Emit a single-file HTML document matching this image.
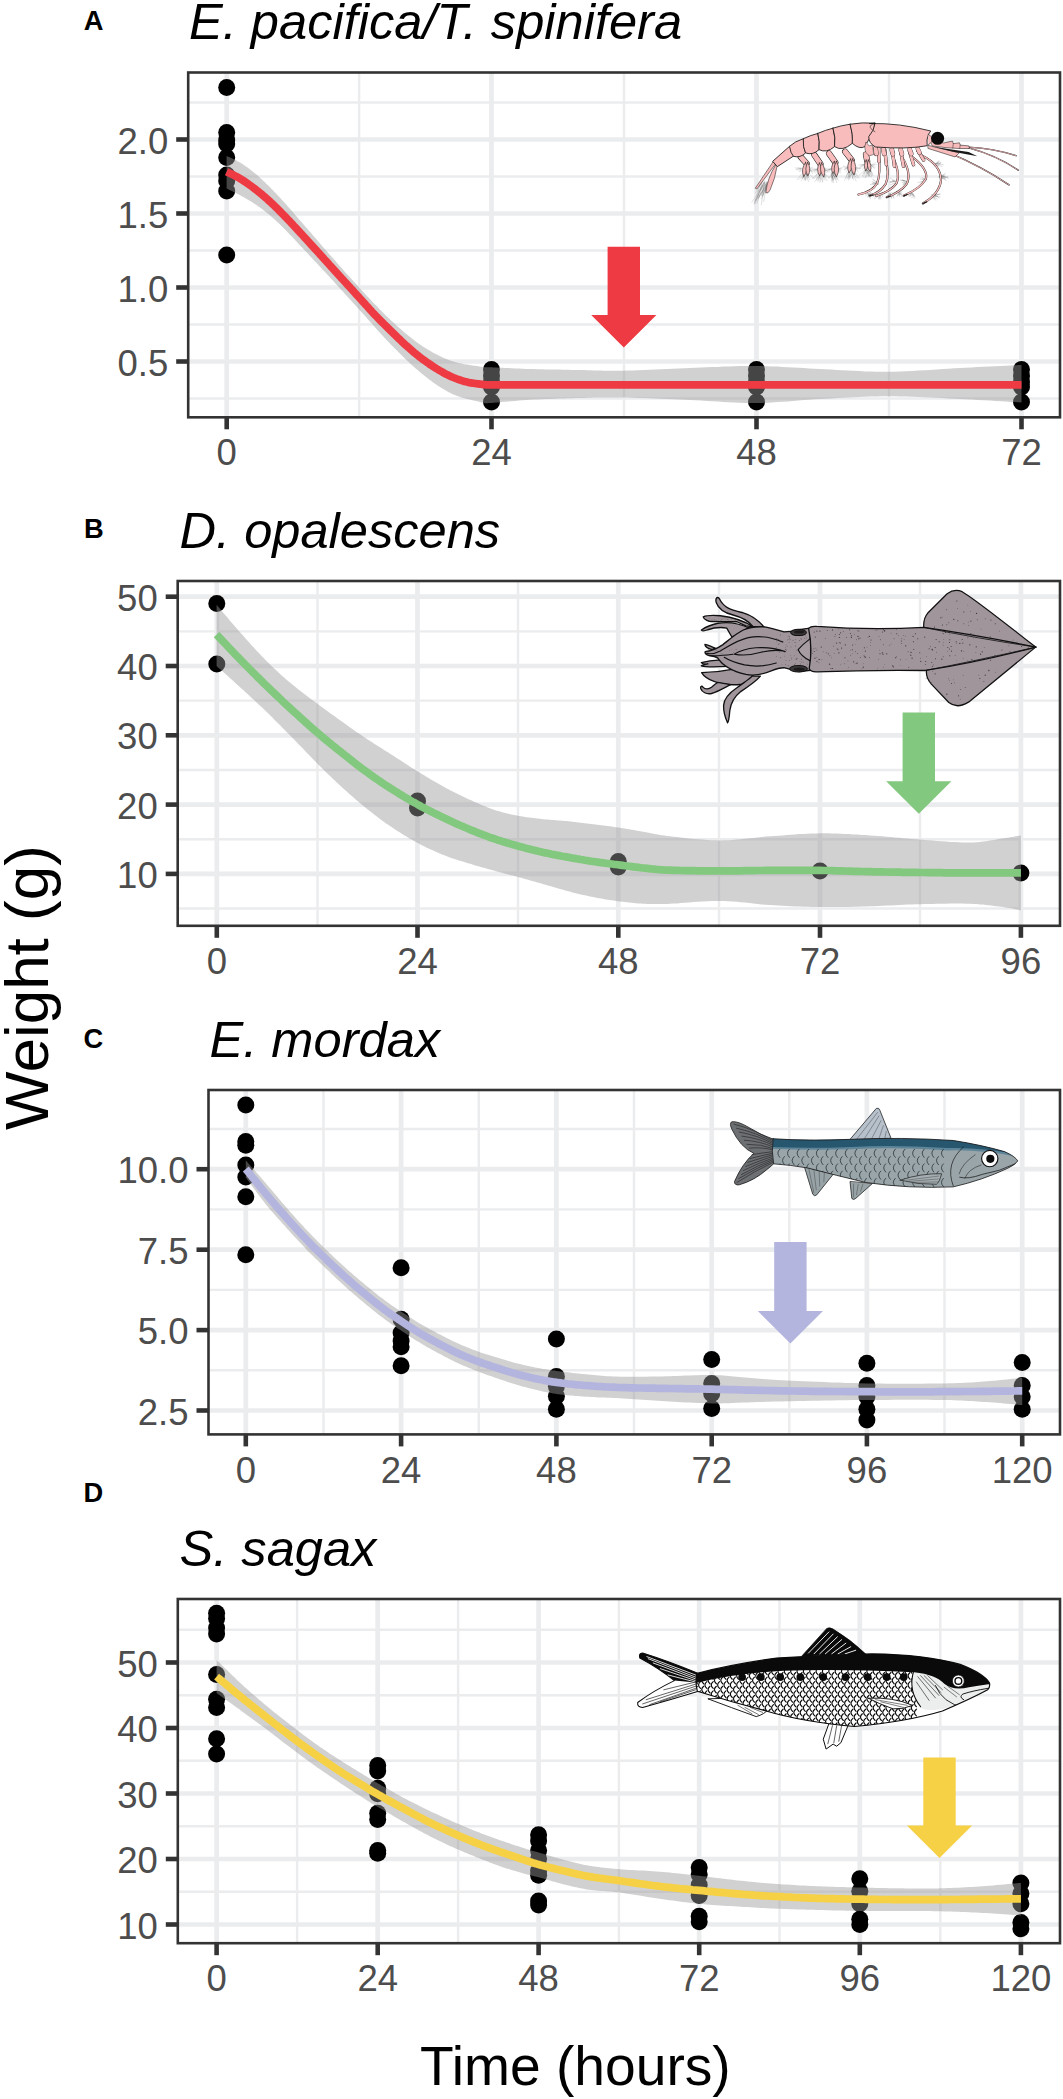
<!DOCTYPE html>
<html><head><meta charset="utf-8"><title>Weight vs time</title>
<style>html,body{margin:0;padding:0;background:#fff}svg{display:block}text{font-family:"Liberation Sans",sans-serif}</style>
</head><body>
<svg width="1063" height="2099" viewBox="0 0 1063 2099">
<rect width="1063" height="2099" fill="#fff"/>
<g>
<line x1="359.1" y1="72.5" x2="359.1" y2="417.3" stroke="#ebecee" stroke-width="2.4"/>
<line x1="624.0" y1="72.5" x2="624.0" y2="417.3" stroke="#ebecee" stroke-width="2.4"/>
<line x1="889.0" y1="72.5" x2="889.0" y2="417.3" stroke="#ebecee" stroke-width="2.4"/>
<line x1="188.2" y1="398.5" x2="1060.0" y2="398.5" stroke="#ebecee" stroke-width="2.4"/>
<line x1="188.2" y1="324.5" x2="1060.0" y2="324.5" stroke="#ebecee" stroke-width="2.4"/>
<line x1="188.2" y1="250.5" x2="1060.0" y2="250.5" stroke="#ebecee" stroke-width="2.4"/>
<line x1="188.2" y1="176.5" x2="1060.0" y2="176.5" stroke="#ebecee" stroke-width="2.4"/>
<line x1="188.2" y1="102.5" x2="1060.0" y2="102.5" stroke="#ebecee" stroke-width="2.4"/>
<line x1="226.7" y1="72.5" x2="226.7" y2="417.3" stroke="#ebecee" stroke-width="4.7"/>
<line x1="491.5" y1="72.5" x2="491.5" y2="417.3" stroke="#ebecee" stroke-width="4.7"/>
<line x1="756.5" y1="72.5" x2="756.5" y2="417.3" stroke="#ebecee" stroke-width="4.7"/>
<line x1="1021.5" y1="72.5" x2="1021.5" y2="417.3" stroke="#ebecee" stroke-width="4.7"/>
<line x1="188.2" y1="139.5" x2="1060.0" y2="139.5" stroke="#ebecee" stroke-width="4.7"/>
<line x1="188.2" y1="213.5" x2="1060.0" y2="213.5" stroke="#ebecee" stroke-width="4.7"/>
<line x1="188.2" y1="287.5" x2="1060.0" y2="287.5" stroke="#ebecee" stroke-width="4.7"/>
<line x1="188.2" y1="361.5" x2="1060.0" y2="361.5" stroke="#ebecee" stroke-width="4.7"/>
<circle cx="226.7" cy="87.5" r="8.5" fill="#000"/>
<circle cx="226.7" cy="132.5" r="8.5" fill="#000"/>
<circle cx="226.7" cy="140.0" r="8.5" fill="#000"/>
<circle cx="226.7" cy="144.0" r="8.5" fill="#000"/>
<circle cx="226.7" cy="157.5" r="8.5" fill="#000"/>
<circle cx="226.7" cy="175.0" r="8.5" fill="#000"/>
<circle cx="226.7" cy="181.0" r="8.5" fill="#000"/>
<circle cx="226.7" cy="191.0" r="8.5" fill="#000"/>
<circle cx="226.7" cy="255.0" r="8.5" fill="#000"/>
<circle cx="491.5" cy="369.5" r="8.5" fill="#000"/>
<circle cx="491.5" cy="376.0" r="8.5" fill="#000"/>
<circle cx="491.5" cy="382.0" r="8.5" fill="#000"/>
<circle cx="491.5" cy="387.0" r="8.5" fill="#000"/>
<circle cx="491.5" cy="402.0" r="8.5" fill="#000"/>
<circle cx="756.5" cy="369.5" r="8.5" fill="#000"/>
<circle cx="756.5" cy="376.0" r="8.5" fill="#000"/>
<circle cx="756.5" cy="382.0" r="8.5" fill="#000"/>
<circle cx="756.5" cy="387.0" r="8.5" fill="#000"/>
<circle cx="756.5" cy="402.0" r="8.5" fill="#000"/>
<circle cx="1021.5" cy="369.5" r="8.5" fill="#000"/>
<circle cx="1021.5" cy="376.0" r="8.5" fill="#000"/>
<circle cx="1021.5" cy="382.0" r="8.5" fill="#000"/>
<circle cx="1021.5" cy="387.0" r="8.5" fill="#000"/>
<circle cx="1021.5" cy="402.0" r="8.5" fill="#000"/>
<path d="M226.6,156.0 L227.2,156.3 L228.1,156.7 L229.0,157.1 L230.0,157.6 L231.2,158.1 L232.4,158.6 L233.7,159.2 L235.0,159.8 L236.3,160.5 L237.6,161.2 L238.9,161.9 L240.1,162.6 L241.3,163.3 L242.5,164.1 L243.8,164.9 L245.0,165.8 L246.3,166.7 L247.6,167.6 L248.8,168.5 L250.1,169.5 L251.4,170.4 L252.7,171.4 L253.9,172.5 L255.2,173.5 L256.5,174.6 L257.7,175.6 L259.0,176.8 L260.2,177.9 L261.5,179.1 L262.7,180.2 L263.9,181.4 L265.2,182.6 L266.4,183.9 L267.7,185.1 L268.9,186.3 L270.2,187.6 L271.5,188.9 L272.7,190.1 L274.0,191.4 L275.2,192.8 L276.5,194.1 L277.8,195.4 L279.0,196.8 L280.3,198.1 L281.5,199.5 L282.8,200.8 L284.0,202.2 L285.3,203.6 L286.5,204.9 L287.6,206.2 L288.7,207.4 L289.7,208.6 L290.8,209.8 L291.9,211.0 L293.0,212.3 L294.2,213.7 L295.5,215.2 L296.9,216.8 L298.5,218.7 L300.3,220.7 L302.3,223.0 L304.4,225.5 L306.8,228.2 L309.2,231.0 L311.8,234.0 L314.4,237.0 L317.1,240.1 L319.8,243.3 L322.5,246.4 L325.2,249.5 L327.8,252.5 L330.4,255.4 L332.9,258.2 L335.4,261.1 L337.9,263.9 L340.4,266.8 L342.9,269.6 L345.4,272.4 L348.0,275.2 L350.5,278.0 L353.0,280.8 L355.5,283.6 L358.0,286.3 L360.5,289.0 L363.0,291.7 L365.5,294.4 L368.0,297.1 L370.5,299.7 L373.0,302.4 L375.6,305.0 L378.1,307.6 L380.6,310.2 L383.1,312.7 L385.6,315.2 L388.1,317.6 L390.6,320.0 L393.1,322.3 L395.6,324.6 L398.1,326.9 L400.6,329.1 L403.1,331.3 L405.7,333.5 L408.2,335.5 L410.7,337.6 L413.2,339.5 L415.7,341.4 L418.2,343.3 L420.7,345.0 L423.2,346.7 L425.7,348.3 L428.2,349.8 L430.7,351.3 L433.2,352.7 L435.8,354.0 L438.3,355.3 L440.8,356.5 L443.3,357.7 L445.8,358.8 L448.3,359.8 L450.8,360.7 L453.4,361.6 L456.0,362.3 L458.8,363.0 L461.6,363.6 L464.3,364.2 L467.1,364.6 L469.7,365.1 L472.3,365.5 L474.7,365.8 L477.0,366.1 L479.1,366.4 L480.9,366.7 L482.4,366.9 L483.5,367.1 L484.3,367.2 L484.8,367.3 L485.3,367.3 L485.7,367.3 L486.1,367.2 L486.6,367.2 L487.3,367.2 L488.3,367.2 L489.7,367.2 L491.5,367.3 L493.7,367.4 L496.2,367.5 L498.9,367.7 L501.8,367.8 L505.0,368.0 L508.3,368.1 L511.7,368.3 L515.3,368.4 L518.9,368.6 L522.6,368.7 L526.3,368.9 L530.0,369.0 L533.8,369.1 L537.7,369.2 L541.9,369.3 L546.1,369.4 L550.4,369.5 L554.7,369.6 L559.1,369.6 L563.4,369.7 L567.7,369.8 L571.9,369.9 L576.0,369.9 L580.0,370.0 L583.8,370.1 L587.3,370.2 L590.7,370.3 L594.0,370.4 L597.2,370.5 L600.4,370.6 L603.7,370.7 L607.1,370.7 L610.7,370.8 L614.5,370.8 L618.6,370.8 L623.0,370.7 L627.7,370.6 L632.8,370.4 L638.1,370.2 L643.6,370.0 L649.3,369.8 L655.1,369.5 L660.9,369.2 L666.9,369.0 L672.8,368.7 L678.6,368.4 L684.4,368.2 L690.0,368.0 L695.5,367.8 L701.1,367.6 L706.6,367.3 L712.1,367.1 L717.7,366.9 L723.2,366.6 L728.7,366.4 L734.2,366.3 L739.7,366.1 L745.1,366.0 L750.6,366.0 L756.0,366.0 L761.4,366.1 L766.7,366.2 L772.0,366.4 L777.3,366.6 L782.6,366.9 L787.9,367.2 L793.2,367.5 L798.4,367.8 L803.8,368.1 L809.1,368.5 L814.5,368.7 L820.0,369.0 L825.5,369.3 L831.1,369.6 L836.6,369.9 L842.2,370.2 L847.8,370.5 L853.5,370.8 L859.2,371.1 L864.9,371.4 L870.6,371.6 L876.4,371.7 L882.2,371.8 L888.0,371.8 L893.9,371.7 L899.9,371.5 L906.0,371.3 L912.1,371.0 L918.2,370.6 L924.4,370.3 L930.5,369.9 L936.6,369.5 L942.6,369.0 L948.6,368.7 L954.4,368.3 L960.0,368.0 L965.7,367.7 L971.6,367.4 L977.6,367.1 L983.6,366.8 L989.5,366.5 L995.2,366.3 L1000.8,366.0 L1005.9,365.7 L1010.7,365.5 L1014.9,365.3 L1018.6,365.1 L1021.5,365.0 L1021.5,402.5 L1018.6,402.3 L1014.9,402.1 L1010.7,401.9 L1005.9,401.6 L1000.8,401.2 L995.2,400.9 L989.5,400.6 L983.6,400.2 L977.6,399.9 L971.6,399.6 L965.7,399.3 L960.0,399.0 L954.4,398.7 L948.6,398.4 L942.6,398.1 L936.6,397.8 L930.5,397.5 L924.4,397.3 L918.2,397.0 L912.1,396.8 L906.0,396.6 L899.9,396.4 L893.9,396.3 L888.0,396.3 L882.2,396.3 L876.4,396.4 L870.6,396.6 L864.9,396.8 L859.2,397.0 L853.5,397.2 L847.8,397.5 L842.2,397.8 L836.6,398.1 L831.1,398.4 L825.5,398.7 L820.0,399.0 L814.5,399.3 L809.1,399.7 L803.8,400.1 L798.4,400.5 L793.2,400.9 L787.9,401.4 L782.6,401.8 L777.3,402.1 L772.0,402.5 L766.7,402.7 L761.4,402.9 L756.0,403.0 L750.6,403.0 L745.1,402.9 L739.7,402.7 L734.2,402.5 L728.7,402.2 L723.2,401.9 L717.7,401.6 L712.1,401.2 L706.6,400.9 L701.1,400.6 L695.5,400.3 L690.0,400.0 L684.4,399.8 L678.6,399.5 L672.8,399.3 L666.9,399.0 L660.9,398.8 L655.1,398.5 L649.3,398.3 L643.6,398.1 L638.1,397.9 L632.8,397.7 L627.7,397.6 L623.0,397.5 L618.6,397.4 L614.5,397.4 L610.7,397.4 L607.1,397.4 L603.7,397.4 L600.4,397.5 L597.2,397.5 L594.0,397.6 L590.7,397.7 L587.3,397.8 L583.8,397.9 L580.0,398.0 L576.0,398.1 L571.9,398.2 L567.7,398.3 L563.4,398.5 L559.1,398.6 L554.7,398.7 L550.4,398.9 L546.1,399.1 L541.9,399.2 L537.7,399.4 L533.8,399.6 L530.0,399.8 L526.3,400.0 L522.6,400.3 L518.9,400.6 L515.3,400.9 L511.7,401.2 L508.3,401.5 L505.0,401.8 L501.8,402.1 L498.9,402.4 L496.2,402.6 L493.7,402.8 L491.5,402.9 L489.7,403.0 L488.3,403.1 L487.3,403.2 L486.6,403.3 L486.1,403.3 L485.7,403.3 L485.3,403.3 L484.8,403.2 L484.3,403.0 L483.5,402.8 L482.4,402.6 L480.9,402.2 L479.1,401.8 L477.0,401.3 L474.7,400.8 L472.3,400.2 L469.7,399.6 L467.1,398.9 L464.3,398.2 L461.6,397.4 L458.8,396.5 L456.0,395.5 L453.4,394.4 L450.8,393.2 L448.3,391.9 L445.8,390.5 L443.3,389.1 L440.8,387.5 L438.3,385.9 L435.8,384.2 L433.2,382.4 L430.7,380.6 L428.2,378.7 L425.7,376.7 L423.2,374.7 L420.7,372.7 L418.2,370.6 L415.7,368.5 L413.2,366.2 L410.7,364.0 L408.2,361.6 L405.7,359.2 L403.1,356.8 L400.6,354.3 L398.1,351.8 L395.6,349.3 L393.1,346.8 L390.6,344.2 L388.1,341.6 L385.6,338.9 L383.1,336.2 L380.6,333.5 L378.1,330.7 L375.6,327.9 L373.0,325.1 L370.5,322.2 L368.0,319.4 L365.5,316.6 L363.0,313.8 L360.5,311.0 L358.0,308.2 L355.5,305.5 L353.0,302.7 L350.5,299.9 L348.0,297.2 L345.4,294.4 L342.9,291.6 L340.4,288.9 L337.9,286.1 L335.4,283.4 L332.9,280.6 L330.4,277.9 L327.8,275.1 L325.2,272.3 L322.5,269.4 L319.8,266.5 L317.1,263.6 L314.4,260.7 L311.8,257.9 L309.2,255.2 L306.8,252.6 L304.4,250.1 L302.3,247.8 L300.3,245.7 L298.5,243.8 L296.9,242.1 L295.5,240.5 L294.2,239.1 L293.0,237.8 L291.9,236.6 L290.8,235.5 L289.7,234.4 L288.7,233.3 L287.6,232.2 L286.5,231.0 L285.3,229.8 L284.0,228.5 L282.8,227.3 L281.5,226.1 L280.3,224.8 L279.0,223.6 L277.8,222.4 L276.5,221.2 L275.2,220.1 L274.0,218.9 L272.7,217.8 L271.5,216.7 L270.2,215.6 L268.9,214.5 L267.7,213.5 L266.4,212.5 L265.2,211.5 L263.9,210.5 L262.7,209.6 L261.5,208.6 L260.2,207.7 L259.0,206.8 L257.7,205.9 L256.5,205.1 L255.2,204.2 L253.9,203.4 L252.7,202.5 L251.4,201.7 L250.1,200.9 L248.8,200.2 L247.6,199.4 L246.3,198.7 L245.0,197.9 L243.8,197.2 L242.5,196.5 L241.3,195.9 L240.1,195.2 L238.9,194.5 L237.6,193.9 L236.3,193.2 L235.0,192.5 L233.7,191.9 L232.4,191.3 L231.2,190.7 L230.0,190.2 L229.0,189.7 L228.1,189.2 L227.2,188.8 L226.6,188.5Z" fill="#999999" fill-opacity="0.45"/>
<path d="M226.6,171.7 L227.2,172.0 L228.1,172.4 L229.0,172.9 L230.0,173.4 L231.2,173.9 L232.4,174.5 L233.7,175.1 L235.0,175.8 L236.3,176.5 L237.6,177.2 L238.9,177.9 L240.1,178.6 L241.3,179.3 L242.5,180.1 L243.8,180.9 L245.0,181.8 L246.3,182.6 L247.6,183.5 L248.8,184.4 L250.1,185.3 L251.4,186.2 L252.7,187.2 L253.9,188.1 L255.2,189.1 L256.5,190.1 L257.7,191.1 L259.0,192.1 L260.2,193.1 L261.5,194.1 L262.7,195.2 L263.9,196.2 L265.2,197.3 L266.4,198.4 L267.7,199.5 L268.9,200.7 L270.2,201.8 L271.5,203.0 L272.7,204.2 L274.0,205.4 L275.2,206.6 L276.5,207.8 L277.8,209.1 L279.0,210.4 L280.3,211.6 L281.5,212.9 L282.8,214.2 L284.0,215.5 L285.3,216.8 L286.6,218.1 L287.8,219.4 L289.1,220.7 L290.3,222.0 L291.6,223.4 L292.8,224.7 L294.0,226.0 L295.3,227.4 L296.5,228.7 L297.8,230.1 L299.0,231.4 L300.3,232.8 L301.6,234.2 L302.8,235.5 L304.1,236.9 L305.3,238.3 L306.6,239.6 L307.8,241.0 L309.1,242.4 L310.4,243.8 L311.6,245.2 L312.9,246.5 L314.1,247.9 L315.4,249.3 L316.7,250.7 L317.9,252.1 L319.2,253.4 L320.4,254.8 L321.7,256.2 L322.9,257.6 L324.1,259.0 L325.4,260.4 L326.6,261.7 L327.9,263.1 L329.1,264.5 L330.4,265.9 L331.7,267.3 L332.9,268.7 L334.2,270.1 L335.4,271.4 L336.7,272.8 L337.9,274.2 L339.2,275.6 L340.5,277.0 L341.7,278.4 L343.0,279.7 L344.2,281.1 L345.5,282.5 L346.8,283.9 L348.0,285.3 L349.3,286.6 L350.5,288.0 L351.8,289.4 L353.0,290.7 L354.2,292.1 L355.5,293.5 L356.7,294.9 L358.0,296.2 L359.2,297.6 L360.5,299.0 L361.8,300.4 L363.0,301.8 L364.3,303.2 L365.5,304.6 L366.8,306.0 L368.1,307.4 L369.3,308.8 L370.6,310.2 L371.8,311.6 L373.1,312.9 L374.3,314.3 L375.6,315.6 L376.9,316.9 L378.1,318.2 L379.4,319.5 L380.6,320.7 L381.9,322.0 L383.1,323.2 L384.3,324.5 L385.6,325.7 L386.8,326.9 L388.1,328.1 L389.3,329.4 L390.6,330.6 L391.9,331.8 L393.1,333.1 L394.4,334.3 L395.6,335.5 L396.9,336.8 L398.2,338.0 L399.4,339.2 L400.7,340.4 L401.9,341.6 L403.2,342.8 L404.4,344.0 L405.7,345.1 L407.0,346.2 L408.2,347.3 L409.5,348.4 L410.7,349.5 L412.0,350.6 L413.2,351.7 L414.4,352.7 L415.7,353.7 L416.9,354.7 L418.2,355.7 L419.4,356.7 L420.7,357.7 L422.0,358.7 L423.2,359.6 L424.5,360.5 L425.7,361.4 L427.0,362.3 L428.3,363.2 L429.5,364.1 L430.8,364.9 L432.0,365.8 L433.3,366.6 L434.5,367.4 L435.8,368.2 L437.1,369.0 L438.3,369.7 L439.6,370.5 L440.8,371.2 L442.1,371.9 L443.3,372.6 L444.5,373.3 L445.8,374.0 L447.0,374.6 L448.3,375.2 L449.5,375.8 L450.8,376.4 L452.1,377.0 L453.3,377.5 L454.6,378.0 L455.8,378.5 L457.1,379.0 L458.3,379.5 L459.6,379.9 L460.9,380.3 L462.1,380.7 L463.4,381.1 L464.6,381.5 L465.9,381.8 L467.2,382.1 L468.5,382.4 L469.8,382.7 L471.1,382.9 L472.4,383.1 L473.7,383.3 L475.0,383.5 L476.2,383.6 L477.5,383.8 L478.7,383.9 L479.8,384.1 L480.9,384.2 L481.8,384.3 L482.3,384.4 L482.5,384.5 L482.6,384.6 L482.7,384.6 L482.9,384.6 L483.2,384.7 L483.8,384.7 L484.9,384.7 L486.4,384.8 L488.6,384.8 L491.5,384.8 L494.8,384.8 L498.1,384.8 L501.6,384.8 L505.3,384.8 L509.5,384.8 L514.2,384.8 L519.5,384.8 L525.6,384.8 L532.6,384.8 L540.5,384.8 L549.6,384.8 L560.0,384.8 L571.6,384.8 L584.5,384.8 L598.4,384.8 L613.3,384.8 L629.1,384.8 L645.7,384.8 L663.0,384.8 L680.8,384.8 L699.1,384.8 L717.8,384.8 L736.8,384.8 L756.0,384.8 L776.5,384.8 L799.3,384.8 L823.7,384.8 L849.2,384.8 L875.1,384.8 L901.0,384.8 L926.2,384.8 L950.1,384.8 L972.2,384.8 L991.8,384.8 L1008.4,384.8 L1021.5,384.8" fill="none" stroke="#ee3b43" stroke-width="7.7" stroke-linejoin="round"/>
<path d="M607.6,246.8 H640.0 V315.1 H656.4 L623.8,347.6 L591.2,315.1 H607.6 Z" fill="#ee3b43"/>
<g stroke-linejoin="round" stroke-linecap="round"><g transform="translate(860,115) scale(0.15522)"><path d="M64,498l16,10M48,505l17,17M48,498l15,21M49,500l13,33M62,503l5,38M70,501l-2,16M55,510l-4,17M64,503l-13,27M48,500l-11,13M55,506l-20,15" stroke="#444" stroke-width="2.0" fill="none" opacity="0.60"/><path d="M128,513l19,12M121,516l21,20M133,504l11,19M110,510l12,32M127,511l6,31M125,512l-3,23M130,517l-7,25M108,513l-15,28M129,506l-26,30M107,509l-25,20" stroke="#444" stroke-width="2.0" fill="none" opacity="0.60"/><path d="M188,510l15,9M197,511l16,14M201,511l15,21M194,504l11,35M213,499l6,37M193,505l-0,21M186,504l-6,21M213,508l-13,26M205,498l-19,23M210,510l-28,20" stroke="#444" stroke-width="2.0" fill="none" opacity="0.60"/><path d="M249,502l21,14M252,494l12,11M246,494l9,14M247,506l10,22M253,497l2,19M270,508l-1,18M248,493l-7,26M269,494l-10,19M261,494l-23,31M261,508l-12,10" stroke="#444" stroke-width="2.0" fill="none" opacity="0.60"/><path d="M323,498l26,19M331,505l25,23M339,508l11,17M339,504l11,33M326,492l5,27M323,503l-0,22M342,508l-8,25M322,495l-12,21M333,507l-12,16M334,505l-22,16" stroke="#444" stroke-width="2.0" fill="none" opacity="0.60"/><path d="M481,525l27,-16M461,525l25,-9M483,518l34,-8M476,514l38,-4M481,525l19,0M483,523l35,5M460,512l28,8M471,527l28,14M479,515l31,19M463,521l17,14M460,527l18,18M472,527l16,21" stroke="#444" stroke-width="2.0" fill="none" opacity="0.60"/><path d="M520,401l30,-24M518,395l13,-8M511,400l31,-17M515,400l27,-10M509,401l33,-9M528,400l22,-4M532,399l34,-2M520,403l28,1M519,407l28,4M532,396l36,9M530,394l36,13M508,396l24,10M528,407l28,15M524,394l27,19" stroke="#444" stroke-width="2.0" fill="none" opacity="0.60"/><path d="M482,328l22,-32M504,326l17,-21M490,317l19,-18M496,312l19,-13M477,317l24,-11M478,328l27,-8M479,316l39,-6M484,314l34,-2M499,316l38,4M492,323l37,8" stroke="#444" stroke-width="2.0" fill="none" opacity="0.60"/><path d="M425,419l-14,8M424,425l-36,14M408,426l-35,9M421,427l-23,2M421,416l-18,-1M407,415l-19,-3M427,416l-21,-8M416,412l-17,-9M427,421l-13,-9M432,413l-20,-18" stroke="#444" stroke-width="2.0" fill="none" opacity="0.60"/><path d="M300,436l-23,11M305,438l-26,8M306,432l-35,5M288,424l-24,-1M293,424l-33,-6M310,433l-34,-13M294,429l-18,-11M293,438l-20,-17" stroke="#444" stroke-width="2.0" fill="none" opacity="0.60"/><path d="M223,438l-26,12M216,428l-23,7M222,430l-27,3M219,428l-22,-0M225,426l-15,-3M237,433l-26,-11M227,427l-31,-21M236,432l-13,-13" stroke="#444" stroke-width="2.0" fill="none" opacity="0.60"/><path d="M121,442l-31,18M100,440l-34,9M119,445l-36,4M115,443l-37,-2M100,438l-15,-3M112,442l-34,-13M110,432l-27,-18M110,441l-24,-24" stroke="#444" stroke-width="2.0" fill="none" opacity="0.60"/><path d="M700,207 Q860,215 1005,262" fill="none" stroke="#1a1a1a" stroke-width="9.0" stroke-linecap="round" stroke-linejoin="round"/><path d="M700,207 Q860,215 1005,262" fill="none" stroke="#f8bcbc" stroke-width="5.0" stroke-linecap="round" stroke-linejoin="round"/><path d="M700,212 Q880,260 1020,356" fill="none" stroke="#1a1a1a" stroke-width="9.0" stroke-linecap="round" stroke-linejoin="round"/><path d="M700,212 Q880,260 1020,356" fill="none" stroke="#f8bcbc" stroke-width="5.0" stroke-linecap="round" stroke-linejoin="round"/><path d="M560,238 Q780,330 960,450" fill="none" stroke="#1a1a1a" stroke-width="9.5" stroke-linecap="round" stroke-linejoin="round"/><path d="M560,238 Q780,330 960,450" fill="none" stroke="#f8bcbc" stroke-width="5.5" stroke-linecap="round" stroke-linejoin="round"/><path d="M440,196 L640,244 L612,270 L440,216Z" fill="#f8bcbc" stroke="#1a1a1a" stroke-width="3.5"/><path d="M470,204 L700,238 L756,266 L600,236Z" fill="#1a1a1a"/><path d="M455,168 L540,180 L596,168 L601,184 L641,179 L646,194 L701,199 L706,216 L640,216 L560,211 L468,200Z" fill="#f8bcbc" stroke="#1a1a1a" stroke-width="3.5"/><path d="M601,184 L598,212 M646,194 L642,215" stroke="#1a1a1a" stroke-width="3" fill="none"/><path d="M120,250 Q135,380 110,440 Q80,495 -10,512" fill="none" stroke="#1a1a1a" stroke-width="13.4" stroke-linecap="round" stroke-linejoin="round"/><path d="M120,250 Q135,380 110,440 Q80,495 -10,512" fill="none" stroke="#f8bcbc" stroke-width="9.0" stroke-linecap="round" stroke-linejoin="round"/><path d="M160,262 Q195,380 165,445 Q130,500 62,520" fill="none" stroke="#1a1a1a" stroke-width="13.4" stroke-linecap="round" stroke-linejoin="round"/><path d="M160,262 Q195,380 165,445 Q130,500 62,520" fill="none" stroke="#f8bcbc" stroke-width="9.0" stroke-linecap="round" stroke-linejoin="round"/><path d="M212,270 Q262,380 235,440 Q200,490 102,522" fill="none" stroke="#1a1a1a" stroke-width="13.4" stroke-linecap="round" stroke-linejoin="round"/><path d="M212,270 Q262,380 235,440 Q200,490 102,522" fill="none" stroke="#f8bcbc" stroke-width="9.0" stroke-linecap="round" stroke-linejoin="round"/><path d="M272,272 Q335,380 300,445 Q262,495 172,530" fill="none" stroke="#1a1a1a" stroke-width="13.4" stroke-linecap="round" stroke-linejoin="round"/><path d="M272,272 Q335,380 300,445 Q262,495 172,530" fill="none" stroke="#f8bcbc" stroke-width="9.0" stroke-linecap="round" stroke-linejoin="round"/><path d="M340,272 Q440,350 425,410 Q395,470 282,520" fill="none" stroke="#1a1a1a" stroke-width="13.4" stroke-linecap="round" stroke-linejoin="round"/><path d="M340,272 Q440,350 425,410 Q395,470 282,520" fill="none" stroke="#f8bcbc" stroke-width="9.0" stroke-linecap="round" stroke-linejoin="round"/><path d="M400,262 Q520,320 522,420 Q512,510 405,570" fill="none" stroke="#1a1a1a" stroke-width="13.4" stroke-linecap="round" stroke-linejoin="round"/><path d="M400,262 Q520,320 522,420 Q512,510 405,570" fill="none" stroke="#f8bcbc" stroke-width="9.0" stroke-linecap="round" stroke-linejoin="round"/><path d="M62,520 l22,-6 M172,530 l24,-8 M282,520 l22,-8 M405,570 l24,-10" stroke="#1a1a1a" stroke-width="8" fill="none"/><path d="M120,215 L122,300" fill="none" stroke="#1a1a1a" stroke-width="22.0" stroke-linecap="round" stroke-linejoin="round"/><path d="M120,215 L122,300" fill="none" stroke="#f8bcbc" stroke-width="18.0" stroke-linecap="round" stroke-linejoin="round"/><path d="M160,225 L170,320" fill="none" stroke="#1a1a1a" stroke-width="22.0" stroke-linecap="round" stroke-linejoin="round"/><path d="M160,225 L170,320" fill="none" stroke="#f8bcbc" stroke-width="18.0" stroke-linecap="round" stroke-linejoin="round"/><path d="M208,230 L222,330" fill="none" stroke="#1a1a1a" stroke-width="22.0" stroke-linecap="round" stroke-linejoin="round"/><path d="M208,230 L222,330" fill="none" stroke="#f8bcbc" stroke-width="18.0" stroke-linecap="round" stroke-linejoin="round"/><path d="M262,232 L280,330" fill="none" stroke="#1a1a1a" stroke-width="22.0" stroke-linecap="round" stroke-linejoin="round"/><path d="M262,232 L280,330" fill="none" stroke="#f8bcbc" stroke-width="18.0" stroke-linecap="round" stroke-linejoin="round"/><path d="M318,232 L345,320" fill="none" stroke="#1a1a1a" stroke-width="22.0" stroke-linecap="round" stroke-linejoin="round"/><path d="M318,232 L345,320" fill="none" stroke="#f8bcbc" stroke-width="18.0" stroke-linecap="round" stroke-linejoin="round"/><path d="M372,228 L410,290" fill="none" stroke="#1a1a1a" stroke-width="22.0" stroke-linecap="round" stroke-linejoin="round"/><path d="M372,228 L410,290" fill="none" stroke="#f8bcbc" stroke-width="18.0" stroke-linecap="round" stroke-linejoin="round"/><path d="M100,215 L105,250" fill="none" stroke="#1a1a1a" stroke-width="30.0" stroke-linecap="round" stroke-linejoin="round"/><path d="M100,215 L105,250" fill="none" stroke="#f8bcbc" stroke-width="26.0" stroke-linecap="round" stroke-linejoin="round"/><path d="M150,220 L156,250" fill="none" stroke="#1a1a1a" stroke-width="30.0" stroke-linecap="round" stroke-linejoin="round"/><path d="M150,220 L156,250" fill="none" stroke="#f8bcbc" stroke-width="26.0" stroke-linecap="round" stroke-linejoin="round"/><path d="M205,224 L212,252" fill="none" stroke="#1a1a1a" stroke-width="30.0" stroke-linecap="round" stroke-linejoin="round"/><path d="M205,224 L212,252" fill="none" stroke="#f8bcbc" stroke-width="26.0" stroke-linecap="round" stroke-linejoin="round"/><path d="M262,224 L270,252" fill="none" stroke="#1a1a1a" stroke-width="30.0" stroke-linecap="round" stroke-linejoin="round"/><path d="M262,224 L270,252" fill="none" stroke="#f8bcbc" stroke-width="26.0" stroke-linecap="round" stroke-linejoin="round"/><path d="M320,222 L330,250" fill="none" stroke="#1a1a1a" stroke-width="30.0" stroke-linecap="round" stroke-linejoin="round"/><path d="M320,222 L330,250" fill="none" stroke="#f8bcbc" stroke-width="26.0" stroke-linecap="round" stroke-linejoin="round"/><path d="M372,218 L384,244" fill="none" stroke="#1a1a1a" stroke-width="28.0" stroke-linecap="round" stroke-linejoin="round"/><path d="M372,218 L384,244" fill="none" stroke="#f8bcbc" stroke-width="24.0" stroke-linecap="round" stroke-linejoin="round"/></g><g transform="translate(750,115) scale(0.1317)"><path d="M124,511l-6,67M124,509l-10,89M110,516l-24,166M126,524l-22,133M89,511l-13,67M114,502l-20,91M120,527l-20,87M111,519l-24,89M134,509l-20,70M81,519l-50,155M107,512l-55,157M93,523l-56,154M137,507l-43,110M133,527l-46,107M109,503l-65,145M107,513l-49,103M99,532l-44,87M130,506l-67,126M134,512l-69,120M140,523l-53,89M97,504l-57,91M97,536l-83,127M111,509l-51,73M133,531l-98,133M136,522l-98,127M124,518l-41,51" stroke="#555" stroke-width="2.4" fill="none" opacity="0.60"/><path d="M404,426l44,40M414,435l24,26M440,433l41,48M418,437l25,36M400,453l19,32M436,455l17,36M399,427l13,34M401,432l10,33M428,437l15,68M409,435l7,53M439,428l3,42M434,431l-1,58M410,438l-4,41M434,425l-14,67M436,439l-15,60M409,453l-10,28M440,432l-29,62M416,446l-17,33M423,448l-35,52M391,449l-33,43M423,434l-47,53M422,446l-30,29" stroke="#555" stroke-width="2.2" fill="none" opacity="0.60"/><path d="M390,411l-11,19M392,404l-17,19M399,412l-25,19M385,407l-29,13M386,404l-36,9M388,407l-37,4M385,404l-43,-3M394,406l-30,-6" stroke="#555" stroke-width="2.0" fill="none" opacity="0.50"/><path d="M440,406l37,-10M446,407l28,-2M436,415l39,1M434,409l24,6M433,409l40,18M433,405l38,23M448,415l23,19M449,408l26,37" stroke="#555" stroke-width="2.0" fill="none" opacity="0.50"/><path d="M548,430l55,47M528,440l32,34M524,440l20,23M559,436l20,30M552,443l34,57M528,458l23,46M556,430l18,43M549,431l20,64M557,437l8,32M527,438l9,70M523,452l2,58M509,453l-1,42M558,430l-7,58M559,459l-9,51M531,445l-10,40M551,452l-14,36M541,440l-27,59M550,432l-22,41M522,431l-34,54M526,460l-33,44M523,432l-51,54M546,443l-38,37" stroke="#555" stroke-width="2.2" fill="none" opacity="0.60"/><path d="M512,417l-16,26M513,410l-29,29M511,413l-22,16M505,412l-23,11M512,413l-40,14M510,412l-44,6M520,410l-36,-3M517,420l-39,-9" stroke="#555" stroke-width="2.0" fill="none" opacity="0.50"/><path d="M552,411l26,-9M569,413l34,-3M555,418l31,3M562,416l22,6M553,411l27,11M563,411l30,18M564,411l22,18M566,416l15,20" stroke="#555" stroke-width="2.0" fill="none" opacity="0.50"/><path d="M635,442l26,22M623,446l24,25M630,454l27,33M633,437l32,45M633,431l37,65M614,453l17,35M635,452l25,62M615,442l11,36M619,444l15,69M622,433l7,52M620,440l4,72M624,428l-3,73M639,426l-9,73M661,444l-10,46M655,431l-10,36M657,430l-22,64M641,436l-19,44M652,452l-19,36M653,426l-29,47M645,442l-22,28M636,443l-30,32M637,438l-43,41" stroke="#555" stroke-width="2.2" fill="none" opacity="0.60"/><path d="M615,407l-18,31M614,406l-28,28M608,409l-18,14M615,404l-27,15M620,413l-21,6M615,409l-21,3M622,416l-23,-2M609,416l-39,-10" stroke="#555" stroke-width="2.0" fill="none" opacity="0.50"/><path d="M673,406l42,-13M656,408l43,-4M673,407l24,2M665,415l23,6M665,408l25,10M658,415l21,12M658,413l30,29M668,408l21,26" stroke="#555" stroke-width="2.0" fill="none" opacity="0.50"/><path d="M774,442l41,37M777,427l53,53M796,432l26,33M767,420l37,53M787,422l16,28M774,435l32,67M746,419l11,28M771,442l14,47M778,415l9,39M750,426l7,45M775,421l4,56M751,444l-2,51M749,434l-3,37M765,423l-13,64M773,425l-14,57M793,437l-17,47M746,431l-28,65M747,439l-19,36M793,419l-29,47M770,434l-34,46M760,424l-26,28M785,437l-50,49" stroke="#555" stroke-width="2.2" fill="none" opacity="0.60"/><path d="M750,400l-21,36M740,395l-22,22M742,403l-16,13M749,397l-37,18M751,400l-30,9M754,397l-36,5M740,397l-20,-2M750,398l-42,-11" stroke="#555" stroke-width="2.0" fill="none" opacity="0.50"/><path d="M790,405l27,-7M798,406l37,-4M799,404l41,2M796,398l37,8M787,405l33,13M787,405l18,11M786,394l17,16M799,403l21,29" stroke="#555" stroke-width="2.0" fill="none" opacity="0.50"/><path d="M888,420l43,36M872,421l48,51M875,401l45,57M913,420l19,26M902,403l34,58M908,401l16,31M870,402l18,46M888,404l19,59M913,414l10,52M892,419l8,48M897,401l4,62M912,400l-1,34M909,425l-3,39M895,419l-8,51M887,420l-13,51M884,401l-23,69M875,414l-22,48M905,419l-30,58M890,407l-25,38M915,395l-21,26M916,410l-28,31M881,409l-51,48" stroke="#555" stroke-width="2.2" fill="none" opacity="0.60"/><path d="M875,382l-21,33M863,384l-19,21M863,379l-31,23M863,380l-31,15M864,378l-25,7M863,376l-41,4M870,376l-28,-1M880,383l-24,-5" stroke="#555" stroke-width="2.0" fill="none" opacity="0.50"/><path d="M912,379l42,-15M925,379l40,-3M912,376l36,1M918,383l20,4M923,380l30,13M918,383l30,18M921,383l22,22M924,385l16,20" stroke="#555" stroke-width="2.0" fill="none" opacity="0.50"/><path d="M385,318 L430,368" fill="none" stroke="#1a1a1a" stroke-width="46.0" stroke-linecap="round" stroke-linejoin="round"/><path d="M385,318 L430,368" fill="none" stroke="#f8bcbc" stroke-width="38.0" stroke-linecap="round" stroke-linejoin="round"/><path d="M422,360 Q383,410 408,468 Q447,418 422,360Z" fill="#f8bcbc" stroke="#1a1a1a" stroke-width="4.5"/><path d="M438,360 Q408,412 440,462 Q470,410 438,360Z" fill="#f8bcbc" stroke="#1a1a1a" stroke-width="4.5"/><path d="M488,302 L535,372" fill="none" stroke="#1a1a1a" stroke-width="46.0" stroke-linecap="round" stroke-linejoin="round"/><path d="M488,302 L535,372" fill="none" stroke="#f8bcbc" stroke-width="38.0" stroke-linecap="round" stroke-linejoin="round"/><path d="M527,364 Q498,413 528,462 Q557,413 527,364Z" fill="#f8bcbc" stroke="#1a1a1a" stroke-width="4.5"/><path d="M543,364 Q520,422 560,470 Q583,412 543,364Z" fill="#f8bcbc" stroke="#1a1a1a" stroke-width="4.5"/><path d="M600,292 L648,360" fill="none" stroke="#1a1a1a" stroke-width="46.0" stroke-linecap="round" stroke-linejoin="round"/><path d="M600,292 L648,360" fill="none" stroke="#f8bcbc" stroke-width="38.0" stroke-linecap="round" stroke-linejoin="round"/><path d="M640,352 Q606,395 628,445 Q662,402 640,352Z" fill="#f8bcbc" stroke="#1a1a1a" stroke-width="4.5"/><path d="M656,352 Q621,411 656,470 Q691,411 656,352Z" fill="#f8bcbc" stroke="#1a1a1a" stroke-width="4.5"/><path d="M722,278 L772,342" fill="none" stroke="#1a1a1a" stroke-width="46.0" stroke-linecap="round" stroke-linejoin="round"/><path d="M722,278 L772,342" fill="none" stroke="#f8bcbc" stroke-width="38.0" stroke-linecap="round" stroke-linejoin="round"/><path d="M764,334 Q726,383 752,440 Q790,391 764,334Z" fill="#f8bcbc" stroke="#1a1a1a" stroke-width="4.5"/><path d="M780,334 Q749,398 790,455 Q821,392 780,334Z" fill="#f8bcbc" stroke="#1a1a1a" stroke-width="4.5"/><path d="M880,300 L890,350" fill="none" stroke="#1a1a1a" stroke-width="46.0" stroke-linecap="round" stroke-linejoin="round"/><path d="M880,300 L890,350" fill="none" stroke="#f8bcbc" stroke-width="38.0" stroke-linecap="round" stroke-linejoin="round"/><path d="M882,342 Q856,383 880,425 Q906,384 882,342Z" fill="#f8bcbc" stroke="#1a1a1a" stroke-width="4.5"/><path d="M898,342 Q879,390 912,430 Q931,382 898,342Z" fill="#f8bcbc" stroke="#1a1a1a" stroke-width="4.5"/><path d="M192,384 Q132,480 120,590 Q136,602 152,570 Q192,480 204,396Z" fill="#f8bcbc" stroke="#1a1a1a" stroke-width="4"/><path d="M176,354 L40,556 L52,562 L192,374Z" fill="#f8bcbc" stroke="#1a1a1a" stroke-width="4"/><path d="M300,238 L172,352 L208,392 L330,312 Z" fill="#f8bcbc" stroke="#1a1a1a" stroke-width="6.5"/><path d="M405,180 Q340,200 300,238 Q308,290 330,314 Q382,328 422,288 Q400,240 405,180Z" fill="#f8bcbc" stroke="#1a1a1a" stroke-width="6.5"/><path d="M515,140 Q455,155 405,180 Q400,245 422,288 Q476,308 524,263 Q532,200 515,140Z" fill="#f8bcbc" stroke="#1a1a1a" stroke-width="6.5"/><path d="M630,100 Q570,115 515,140 Q532,205 524,263 Q582,292 642,240 Q652,170 630,100Z" fill="#f8bcbc" stroke="#1a1a1a" stroke-width="6.5"/><path d="M760,70 Q690,80 630,100 Q652,170 642,240 Q702,280 777,215 Q784,150 760,70Z" fill="#f8bcbc" stroke="#1a1a1a" stroke-width="6.5"/><path d="M948,62 Q850,54 760,70 Q784,150 777,215 Q832,264 872,240 L900,190 Q948,130 948,62Z" fill="#f8bcbc" stroke="#1a1a1a" stroke-width="6.5"/><path d="M872,240 L880,205 L905,235 L930,228 L940,300 L905,310 L880,285Z" fill="#f8bcbc" stroke="#1a1a1a" stroke-width="3.5"/></g><g transform="translate(860,115) scale(0.15522)"><path d="M62,55 Q250,50 456,103 L441,125 Q426,160 433,198 Q300,222 100,206 Q56,182 56,140 Q92,100 96,55 Z" fill="#f8bcbc" stroke="#1a1a1a" stroke-width="5.5"/><path d="M96,55 Q62,62 66,80 Q76,100 96,108" fill="none" stroke="#1a1a1a" stroke-width="3.5"/><path d="M440,125 Q470,135 462,170 Q455,185 440,192" fill="#f8bcbc" stroke="#1a1a1a" stroke-width="3.5"/><circle cx="500" cy="150" r="42" fill="#0a0a0a"/></g></g>
<rect x="188.2" y="72.5" width="871.8" height="344.8" fill="none" stroke="#333333" stroke-width="2.6"/>
<line x1="226.7" y1="417.3" x2="226.7" y2="429.3" stroke="#333333" stroke-width="4.6"/>
<text x="226.7" y="465.4" text-anchor="middle" font-size="36.5" fill="#4d4d4d">0</text>
<line x1="491.5" y1="417.3" x2="491.5" y2="429.3" stroke="#333333" stroke-width="4.6"/>
<text x="491.5" y="465.4" text-anchor="middle" font-size="36.5" fill="#4d4d4d">24</text>
<line x1="756.5" y1="417.3" x2="756.5" y2="429.3" stroke="#333333" stroke-width="4.6"/>
<text x="756.5" y="465.4" text-anchor="middle" font-size="36.5" fill="#4d4d4d">48</text>
<line x1="1021.5" y1="417.3" x2="1021.5" y2="429.3" stroke="#333333" stroke-width="4.6"/>
<text x="1021.5" y="465.4" text-anchor="middle" font-size="36.5" fill="#4d4d4d">72</text>
<line x1="176.2" y1="139.5" x2="188.2" y2="139.5" stroke="#333333" stroke-width="4.6"/>
<text x="168.2" y="153.5" text-anchor="end" font-size="36.5" fill="#4d4d4d">2.0</text>
<line x1="176.2" y1="213.5" x2="188.2" y2="213.5" stroke="#333333" stroke-width="4.6"/>
<text x="168.2" y="227.5" text-anchor="end" font-size="36.5" fill="#4d4d4d">1.5</text>
<line x1="176.2" y1="287.5" x2="188.2" y2="287.5" stroke="#333333" stroke-width="4.6"/>
<text x="168.2" y="301.5" text-anchor="end" font-size="36.5" fill="#4d4d4d">1.0</text>
<line x1="176.2" y1="361.5" x2="188.2" y2="361.5" stroke="#333333" stroke-width="4.6"/>
<text x="168.2" y="375.5" text-anchor="end" font-size="36.5" fill="#4d4d4d">0.5</text>
<text x="189.0" y="39.0" font-size="50.6" font-style="italic" fill="#000">E. pacifica/T. spinifera</text>
<text x="83.8" y="30.2" font-size="27.3" font-weight="bold" fill="#000">A</text>
</g>
<g>
<line x1="317.5" y1="581.0" x2="317.5" y2="925.8" stroke="#ebecee" stroke-width="2.4"/>
<line x1="518.0" y1="581.0" x2="518.0" y2="925.8" stroke="#ebecee" stroke-width="2.4"/>
<line x1="719.0" y1="581.0" x2="719.0" y2="925.8" stroke="#ebecee" stroke-width="2.4"/>
<line x1="920.0" y1="581.0" x2="920.0" y2="925.8" stroke="#ebecee" stroke-width="2.4"/>
<line x1="177.7" y1="908.5" x2="1060.0" y2="908.5" stroke="#ebecee" stroke-width="2.4"/>
<line x1="177.7" y1="839.2" x2="1060.0" y2="839.2" stroke="#ebecee" stroke-width="2.4"/>
<line x1="177.7" y1="770.0" x2="1060.0" y2="770.0" stroke="#ebecee" stroke-width="2.4"/>
<line x1="177.7" y1="700.6" x2="1060.0" y2="700.6" stroke="#ebecee" stroke-width="2.4"/>
<line x1="177.7" y1="631.4" x2="1060.0" y2="631.4" stroke="#ebecee" stroke-width="2.4"/>
<line x1="216.8" y1="581.0" x2="216.8" y2="925.8" stroke="#ebecee" stroke-width="4.7"/>
<line x1="417.5" y1="581.0" x2="417.5" y2="925.8" stroke="#ebecee" stroke-width="4.7"/>
<line x1="618.3" y1="581.0" x2="618.3" y2="925.8" stroke="#ebecee" stroke-width="4.7"/>
<line x1="820.0" y1="581.0" x2="820.0" y2="925.8" stroke="#ebecee" stroke-width="4.7"/>
<line x1="1020.9" y1="581.0" x2="1020.9" y2="925.8" stroke="#ebecee" stroke-width="4.7"/>
<line x1="177.7" y1="596.7" x2="1060.0" y2="596.7" stroke="#ebecee" stroke-width="4.7"/>
<line x1="177.7" y1="666.0" x2="1060.0" y2="666.0" stroke="#ebecee" stroke-width="4.7"/>
<line x1="177.7" y1="735.3" x2="1060.0" y2="735.3" stroke="#ebecee" stroke-width="4.7"/>
<line x1="177.7" y1="804.6" x2="1060.0" y2="804.6" stroke="#ebecee" stroke-width="4.7"/>
<line x1="177.7" y1="873.9" x2="1060.0" y2="873.9" stroke="#ebecee" stroke-width="4.7"/>
<circle cx="216.8" cy="603.6" r="8.5" fill="#000"/>
<circle cx="216.8" cy="664.0" r="8.5" fill="#000"/>
<circle cx="417.5" cy="801.0" r="8.5" fill="#000"/>
<circle cx="417.5" cy="808.0" r="8.5" fill="#000"/>
<circle cx="618.3" cy="861.5" r="8.5" fill="#000"/>
<circle cx="618.3" cy="867.0" r="8.5" fill="#000"/>
<circle cx="820.0" cy="870.9" r="8.5" fill="#000"/>
<circle cx="1020.9" cy="872.9" r="8.5" fill="#000"/>
<path d="M216.6,604.8 L217.8,606.2 L219.3,608.0 L221.1,610.1 L223.0,612.4 L225.2,614.9 L227.5,617.6 L229.8,620.4 L232.2,623.2 L234.6,626.0 L237.0,628.8 L239.3,631.4 L241.4,633.8 L243.5,636.1 L245.5,638.5 L247.6,640.8 L249.7,643.1 L251.7,645.4 L253.8,647.6 L255.9,649.9 L257.9,652.1 L260.0,654.3 L262.1,656.5 L264.1,658.6 L266.2,660.7 L268.3,662.8 L270.3,664.8 L272.4,666.7 L274.4,668.7 L276.5,670.6 L278.5,672.5 L280.6,674.4 L282.6,676.2 L284.7,678.0 L286.8,679.9 L289.0,681.7 L291.1,683.5 L293.3,685.3 L295.5,687.1 L297.8,688.9 L300.1,690.7 L302.4,692.5 L304.7,694.2 L307.0,696.0 L309.3,697.7 L311.5,699.4 L313.7,701.0 L315.9,702.6 L318.0,704.2 L320.0,705.7 L322.0,707.2 L323.9,708.6 L325.8,710.0 L327.6,711.3 L329.5,712.7 L331.3,714.0 L333.1,715.3 L335.0,716.6 L336.8,717.9 L338.7,719.3 L340.7,720.7 L342.7,722.1 L344.7,723.6 L346.8,725.0 L348.8,726.5 L350.9,728.0 L353.0,729.4 L355.1,730.9 L357.2,732.4 L359.3,733.8 L361.4,735.3 L363.5,736.7 L365.6,738.1 L367.7,739.5 L369.7,740.8 L371.8,742.1 L373.8,743.4 L375.8,744.7 L377.9,746.0 L379.9,747.3 L382.0,748.6 L384.1,749.9 L386.1,751.2 L388.3,752.5 L390.4,753.9 L392.6,755.3 L394.8,756.7 L397.0,758.2 L399.2,759.6 L401.5,761.1 L403.7,762.5 L406.0,764.0 L408.3,765.5 L410.5,766.9 L412.8,768.4 L415.1,769.8 L417.3,771.2 L419.5,772.6 L421.8,774.0 L424.1,775.3 L426.3,776.7 L428.6,778.1 L430.9,779.4 L433.1,780.7 L435.4,782.0 L437.6,783.3 L439.8,784.6 L442.0,785.8 L444.2,787.0 L446.3,788.2 L448.5,789.3 L450.6,790.4 L452.7,791.5 L454.7,792.5 L456.8,793.5 L458.8,794.6 L460.9,795.5 L462.9,796.5 L465.0,797.5 L467.0,798.5 L469.1,799.4 L471.2,800.3 L473.2,801.3 L475.3,802.2 L477.4,803.1 L479.4,804.0 L481.5,804.9 L483.6,805.8 L485.6,806.6 L487.7,807.5 L489.8,808.2 L491.8,809.0 L493.9,809.7 L496.0,810.4 L498.0,811.0 L500.1,811.6 L502.2,812.2 L504.2,812.7 L506.3,813.2 L508.4,813.7 L510.4,814.2 L512.5,814.7 L514.6,815.1 L516.6,815.5 L518.7,815.9 L520.8,816.3 L522.8,816.6 L524.9,817.0 L527.0,817.3 L529.1,817.5 L531.1,817.8 L533.2,818.1 L535.3,818.3 L537.4,818.5 L539.5,818.8 L541.5,819.0 L543.6,819.2 L545.7,819.4 L547.7,819.6 L549.8,819.8 L551.9,820.0 L553.9,820.1 L556.0,820.3 L558.1,820.4 L560.1,820.6 L562.2,820.7 L564.3,820.9 L566.3,821.1 L568.4,821.3 L570.5,821.5 L572.5,821.7 L574.6,822.0 L576.7,822.2 L578.7,822.4 L580.8,822.7 L582.9,822.9 L584.9,823.2 L587.0,823.4 L589.1,823.7 L591.1,823.9 L593.2,824.2 L595.3,824.5 L597.3,824.7 L599.4,825.0 L601.4,825.2 L603.5,825.5 L605.5,825.7 L607.6,826.0 L609.6,826.3 L611.7,826.6 L613.8,826.9 L616.0,827.2 L618.1,827.5 L620.3,827.8 L622.5,828.2 L624.7,828.6 L627.0,829.0 L629.3,829.3 L631.5,829.7 L633.8,830.1 L636.1,830.5 L638.4,830.9 L640.6,831.3 L642.8,831.7 L645.0,832.1 L647.1,832.5 L649.0,832.8 L650.8,833.2 L652.5,833.5 L654.3,833.9 L656.1,834.2 L657.9,834.6 L659.9,834.9 L662.0,835.3 L664.4,835.6 L667.0,836.0 L670.0,836.3 L673.3,836.7 L676.9,837.1 L680.7,837.5 L684.8,838.0 L689.1,838.4 L693.4,838.9 L697.9,839.3 L702.4,839.6 L706.9,840.0 L711.4,840.2 L715.8,840.3 L720.0,840.4 L724.2,840.3 L728.3,840.2 L732.5,839.9 L736.7,839.6 L740.8,839.2 L745.0,838.8 L749.2,838.3 L753.3,837.9 L757.5,837.4 L761.7,837.0 L765.8,836.6 L770.0,836.3 L774.2,836.0 L778.3,835.7 L782.5,835.4 L786.7,835.0 L790.8,834.7 L795.0,834.4 L799.2,834.1 L803.3,833.9 L807.5,833.7 L811.7,833.5 L815.8,833.4 L820.0,833.3 L824.2,833.3 L828.3,833.3 L832.5,833.4 L836.7,833.5 L840.8,833.7 L845.0,833.9 L849.2,834.1 L853.3,834.4 L857.5,834.6 L861.7,834.9 L865.8,835.1 L870.0,835.4 L874.2,835.7 L878.3,836.0 L882.5,836.3 L886.7,836.7 L890.8,837.1 L895.0,837.5 L899.2,837.8 L903.3,838.2 L907.5,838.6 L911.7,839.0 L915.8,839.3 L920.0,839.6 L924.2,839.9 L928.5,840.2 L932.9,840.6 L937.3,840.9 L941.7,841.3 L946.0,841.6 L950.3,841.9 L954.6,842.1 L958.7,842.3 L962.6,842.4 L966.4,842.5 L970.0,842.5 L973.4,842.4 L976.7,842.2 L979.9,841.9 L983.0,841.6 L985.9,841.2 L988.7,840.8 L991.5,840.3 L994.1,839.9 L996.6,839.4 L998.9,839.0 L1001.2,838.6 L1003.4,838.3 L1005.5,838.0 L1007.4,837.7 L1009.3,837.4 L1011.1,837.1 L1012.7,836.9 L1014.2,836.6 L1015.7,836.3 L1017.0,836.1 L1018.1,835.9 L1019.2,835.7 L1020.1,835.5 L1020.9,835.4 L1020.9,910.4 L1020.1,910.2 L1019.2,910.0 L1018.1,909.8 L1017.0,909.5 L1015.7,909.3 L1014.2,909.0 L1012.7,908.6 L1011.1,908.3 L1009.3,908.0 L1007.4,907.7 L1005.5,907.4 L1003.4,907.1 L1001.2,906.8 L998.9,906.5 L996.6,906.2 L994.1,905.9 L991.5,905.5 L988.7,905.2 L985.9,904.9 L983.0,904.6 L979.9,904.4 L976.7,904.1 L973.4,903.9 L970.0,903.8 L966.4,903.7 L962.6,903.6 L958.7,903.6 L954.6,903.6 L950.3,903.6 L946.0,903.7 L941.7,903.7 L937.3,903.8 L932.9,903.9 L928.5,904.0 L924.2,904.1 L920.0,904.2 L915.8,904.3 L911.7,904.5 L907.5,904.6 L903.3,904.8 L899.2,905.0 L895.0,905.2 L890.8,905.4 L886.7,905.6 L882.5,905.8 L878.3,906.0 L874.2,906.2 L870.0,906.3 L865.8,906.4 L861.7,906.5 L857.5,906.7 L853.3,906.8 L849.2,906.9 L845.0,907.0 L840.8,907.0 L836.7,907.1 L832.5,907.1 L828.3,907.1 L824.2,907.1 L820.0,907.1 L815.8,907.0 L811.7,906.9 L807.5,906.8 L803.3,906.7 L799.2,906.5 L795.0,906.4 L790.8,906.2 L786.7,906.0 L782.5,905.7 L778.3,905.5 L774.2,905.3 L770.0,905.0 L765.8,904.7 L761.7,904.4 L757.5,904.0 L753.3,903.5 L749.2,903.1 L745.0,902.6 L740.8,902.2 L736.7,901.8 L732.5,901.5 L728.3,901.2 L724.2,901.0 L720.0,900.9 L715.8,900.9 L711.4,901.0 L706.9,901.2 L702.4,901.5 L697.9,901.8 L693.4,902.1 L689.1,902.4 L684.8,902.8 L680.7,903.1 L676.9,903.4 L673.3,903.6 L670.0,903.8 L667.0,903.9 L664.4,904.0 L662.0,904.1 L659.9,904.1 L657.9,904.1 L656.1,904.1 L654.3,904.1 L652.5,904.1 L650.8,904.1 L649.0,904.0 L647.1,903.9 L645.0,903.8 L642.8,903.7 L640.6,903.5 L638.4,903.4 L636.1,903.2 L633.8,903.0 L631.5,902.8 L629.3,902.5 L627.0,902.3 L624.7,902.0 L622.5,901.8 L620.3,901.5 L618.1,901.2 L616.0,900.9 L613.8,900.6 L611.7,900.3 L609.6,900.0 L607.6,899.7 L605.5,899.4 L603.5,899.0 L601.4,898.6 L599.4,898.3 L597.3,897.9 L595.3,897.5 L593.2,897.1 L591.1,896.7 L589.1,896.2 L587.0,895.8 L584.9,895.3 L582.9,894.9 L580.8,894.4 L578.7,893.9 L576.7,893.4 L574.6,892.9 L572.5,892.4 L570.5,891.8 L568.4,891.3 L566.3,890.8 L564.3,890.2 L562.2,889.6 L560.1,889.0 L558.1,888.4 L556.0,887.8 L553.9,887.2 L551.9,886.6 L549.8,886.0 L547.7,885.4 L545.7,884.8 L543.6,884.2 L541.5,883.6 L539.5,883.0 L537.4,882.4 L535.3,881.8 L533.2,881.3 L531.1,880.7 L529.1,880.1 L527.0,879.5 L524.9,878.9 L522.8,878.3 L520.8,877.8 L518.7,877.2 L516.6,876.6 L514.6,876.1 L512.5,875.5 L510.4,875.0 L508.4,874.4 L506.3,873.9 L504.2,873.4 L502.2,872.8 L500.1,872.3 L498.0,871.7 L496.0,871.2 L493.9,870.6 L491.8,870.0 L489.8,869.5 L487.7,868.9 L485.6,868.3 L483.6,867.7 L481.5,867.2 L479.4,866.6 L477.4,866.0 L475.3,865.4 L473.2,864.8 L471.2,864.1 L469.1,863.5 L467.0,862.9 L465.0,862.2 L462.9,861.6 L460.9,861.0 L458.8,860.4 L456.8,859.7 L454.7,859.1 L452.7,858.4 L450.6,857.7 L448.5,856.9 L446.3,856.1 L444.2,855.3 L442.0,854.4 L439.8,853.5 L437.6,852.6 L435.4,851.6 L433.1,850.6 L430.9,849.6 L428.6,848.5 L426.3,847.4 L424.1,846.3 L421.8,845.2 L419.5,844.0 L417.3,842.8 L415.1,841.6 L412.8,840.3 L410.5,839.0 L408.3,837.7 L406.0,836.3 L403.7,834.9 L401.5,833.5 L399.2,832.1 L397.0,830.7 L394.8,829.2 L392.6,827.8 L390.4,826.3 L388.3,824.8 L386.1,823.4 L384.1,821.9 L382.0,820.4 L379.9,818.9 L377.9,817.3 L375.8,815.8 L373.8,814.2 L371.8,812.6 L369.7,811.0 L367.7,809.4 L365.6,807.7 L363.5,806.0 L361.4,804.3 L359.3,802.5 L357.2,800.7 L355.1,798.9 L353.0,797.1 L350.9,795.3 L348.8,793.4 L346.8,791.6 L344.7,789.8 L342.7,787.9 L340.7,786.1 L338.7,784.3 L336.8,782.5 L335.0,780.8 L333.1,779.0 L331.3,777.3 L329.5,775.5 L327.6,773.8 L325.8,771.9 L323.9,770.1 L322.0,768.2 L320.0,766.2 L318.0,764.2 L315.9,762.1 L313.7,759.9 L311.5,757.6 L309.3,755.3 L307.0,752.9 L304.7,750.5 L302.4,748.1 L300.1,745.7 L297.8,743.4 L295.5,741.0 L293.3,738.7 L291.1,736.5 L289.0,734.3 L286.8,732.2 L284.7,730.0 L282.6,727.9 L280.6,725.8 L278.5,723.8 L276.5,721.7 L274.4,719.7 L272.4,717.6 L270.3,715.6 L268.3,713.6 L266.2,711.6 L264.1,709.6 L262.1,707.6 L260.0,705.7 L257.9,703.7 L255.9,701.8 L253.8,699.8 L251.7,697.9 L249.7,696.0 L247.6,694.1 L245.5,692.2 L243.5,690.3 L241.4,688.4 L239.3,686.4 L237.0,684.4 L234.6,682.2 L232.2,680.1 L229.8,677.9 L227.5,675.8 L225.2,673.8 L223.0,671.8 L221.1,670.1 L219.3,668.5 L217.8,667.2 L216.6,666.1Z" fill="#999999" fill-opacity="0.45"/>
<path d="M216.6,634.6 L217.8,635.9 L219.3,637.5 L221.1,639.3 L223.0,641.4 L225.2,643.7 L227.5,646.1 L229.8,648.6 L232.2,651.1 L234.6,653.7 L237.0,656.1 L239.3,658.5 L241.4,660.7 L243.5,662.8 L245.5,664.9 L247.6,667.0 L249.7,669.1 L251.7,671.2 L253.8,673.3 L255.9,675.3 L257.9,677.4 L260.0,679.4 L262.1,681.5 L264.1,683.5 L266.2,685.5 L268.3,687.5 L270.3,689.5 L272.4,691.5 L274.4,693.4 L276.5,695.4 L278.5,697.3 L280.6,699.3 L282.6,701.2 L284.7,703.2 L286.8,705.2 L289.0,707.1 L291.1,709.1 L293.3,711.1 L295.5,713.2 L297.8,715.2 L300.1,717.3 L302.4,719.4 L304.7,721.5 L307.0,723.5 L309.3,725.6 L311.5,727.6 L313.7,729.5 L315.9,731.4 L318.0,733.2 L320.0,734.9 L322.0,736.6 L323.9,738.2 L325.8,739.8 L327.6,741.3 L329.5,742.8 L331.3,744.3 L333.1,745.7 L335.0,747.2 L336.8,748.7 L338.7,750.2 L340.7,751.8 L342.7,753.4 L344.7,755.0 L346.8,756.6 L348.8,758.3 L350.9,759.9 L353.0,761.6 L355.1,763.2 L357.2,764.9 L359.3,766.5 L361.4,768.1 L363.5,769.7 L365.6,771.2 L367.7,772.7 L369.7,774.2 L371.8,775.6 L373.8,777.1 L375.8,778.5 L377.9,779.9 L379.9,781.3 L382.0,782.7 L384.1,784.1 L386.1,785.4 L388.3,786.8 L390.4,788.2 L392.6,789.6 L394.8,791.0 L397.0,792.3 L399.2,793.7 L401.5,795.1 L403.7,796.5 L406.0,797.8 L408.3,799.1 L410.5,800.5 L412.8,801.8 L415.1,803.0 L417.3,804.3 L419.5,805.5 L421.8,806.8 L424.1,808.0 L426.3,809.1 L428.6,810.3 L430.9,811.5 L433.1,812.6 L435.4,813.7 L437.6,814.8 L439.8,815.9 L442.0,817.0 L444.2,818.0 L446.3,819.0 L448.5,820.0 L450.6,821.0 L452.7,822.0 L454.7,822.9 L456.8,823.9 L458.8,824.8 L460.9,825.7 L462.9,826.6 L465.0,827.5 L467.0,828.3 L469.1,829.2 L471.2,830.1 L473.2,830.9 L475.3,831.7 L477.4,832.6 L479.4,833.4 L481.5,834.2 L483.6,835.0 L485.6,835.7 L487.7,836.5 L489.8,837.3 L491.8,838.0 L493.9,838.7 L496.0,839.4 L498.0,840.1 L500.1,840.7 L502.2,841.4 L504.2,842.0 L506.3,842.7 L508.4,843.3 L510.4,843.9 L512.5,844.5 L514.6,845.0 L516.6,845.6 L518.7,846.2 L520.8,846.8 L522.8,847.3 L524.9,847.9 L527.0,848.4 L529.1,848.9 L531.1,849.5 L533.2,850.0 L535.3,850.5 L537.4,851.0 L539.5,851.5 L541.5,851.9 L543.6,852.4 L545.7,852.9 L547.7,853.3 L549.8,853.7 L551.9,854.2 L553.9,854.6 L556.0,855.0 L558.1,855.4 L560.1,855.8 L562.2,856.2 L564.3,856.5 L566.3,856.9 L568.4,857.3 L570.5,857.7 L572.5,858.1 L574.6,858.4 L576.7,858.8 L578.7,859.1 L580.8,859.5 L582.9,859.8 L584.9,860.2 L587.0,860.5 L589.1,860.9 L591.1,861.2 L593.2,861.5 L595.3,861.8 L597.3,862.1 L599.4,862.4 L601.4,862.7 L603.5,862.9 L605.5,863.2 L607.6,863.5 L609.6,863.7 L611.7,864.0 L613.8,864.3 L616.0,864.5 L618.1,864.8 L620.3,865.1 L622.5,865.4 L624.7,865.7 L627.0,866.0 L629.3,866.3 L631.5,866.6 L633.8,866.9 L636.1,867.2 L638.4,867.4 L640.6,867.7 L642.8,868.0 L645.0,868.2 L647.1,868.4 L649.0,868.6 L650.8,868.8 L652.5,869.0 L654.3,869.2 L656.1,869.4 L657.9,869.5 L659.9,869.7 L662.0,869.8 L664.4,870.0 L667.0,870.1 L670.0,870.2 L673.3,870.3 L676.9,870.4 L680.7,870.5 L684.8,870.6 L689.1,870.6 L693.4,870.7 L697.9,870.8 L702.4,870.8 L706.9,870.8 L711.4,870.9 L715.8,870.9 L720.0,870.9 L724.2,870.9 L728.3,870.9 L732.5,870.8 L736.7,870.8 L740.8,870.8 L745.0,870.7 L749.2,870.6 L753.3,870.6 L757.5,870.5 L761.7,870.5 L765.8,870.4 L770.0,870.4 L774.2,870.4 L778.3,870.4 L782.5,870.3 L786.7,870.3 L790.8,870.3 L795.0,870.3 L799.2,870.3 L803.3,870.3 L807.5,870.3 L811.7,870.3 L815.8,870.4 L820.0,870.4 L824.2,870.5 L828.3,870.5 L832.5,870.6 L836.7,870.8 L840.8,870.9 L845.0,871.0 L849.2,871.1 L853.3,871.3 L857.5,871.4 L861.7,871.5 L865.8,871.6 L870.0,871.7 L874.2,871.8 L878.3,871.9 L882.5,871.9 L886.7,872.0 L890.8,872.1 L895.0,872.2 L899.2,872.2 L903.3,872.3 L907.5,872.3 L911.7,872.4 L915.8,872.4 L920.0,872.5 L924.2,872.5 L928.3,872.6 L932.5,872.6 L936.6,872.7 L940.8,872.7 L944.9,872.8 L949.1,872.8 L953.3,872.8 L957.4,872.8 L961.6,872.9 L965.8,872.9 L970.0,872.9 L974.4,872.9 L979.0,872.9 L983.9,872.9 L988.8,872.9 L993.7,872.9 L998.6,872.9 L1003.3,872.9 L1007.7,872.9 L1011.7,872.9 L1015.4,872.9 L1018.4,872.9 L1020.9,872.9" fill="none" stroke="#82c87e" stroke-width="7.7" stroke-linejoin="round"/>
<path d="M902.6,712.5 H935.0 V781.3 H951.4 L918.8,813.8 L886.2,781.3 H902.6 Z" fill="#82c87e"/>
<g transform="translate(690,585) scale(0.33396)" stroke-linejoin="round" stroke-linecap="round"><g transform="translate(14.97,14.97) scale(0.38029)" stroke="#111" stroke-width="10.5" fill="#a0959b"><path d="M545,292 C500,240 450,200 380,180 C300,160 230,150 190,65 C172,48 158,72 168,100 C185,150 240,182 300,197 C370,215 420,240 455,287 Z"/><path d="M460,290 C380,240 300,215 200,203 C140,198 90,200 65,212 C70,230 90,240 112,246 C180,252 260,246 330,250 L400,282 Z"/><path d="M430,300 C330,255 250,250 180,262 C120,275 80,295 50,315 C60,326 80,321 100,313 C150,296 200,290 250,300 L290,370 Z"/><path d="M290,625 C220,640 130,650 52,650 C70,680 110,705 150,720 C220,748 300,750 370,742 C410,730 440,700 460,670 Z"/><path d="M280,745 C230,770 180,800 130,815 C90,822 55,805 45,775 C40,757 55,753 63,765 C80,786 110,781 130,766 C150,750 165,735 180,728 Z"/><path d="M515,678 C480,720 420,760 360,800 C310,840 282,890 274,950 C270,1000 264,1040 256,1046 C240,1010 224,960 225,910 C228,860 270,810 330,770 C390,725 430,700 450,678 Z"/><path d="M245,558 C180,545 110,555 50,572 C60,586 80,586 102,582 C72,590 56,592 50,597 C90,609 160,606 245,602 Z"/><path d="M160,458 C125,446 98,430 78,428 C80,446 100,461 135,470 Z"/><path d="M905,300 L820,312 Q760,330 700,330 C660,320 620,305 560,292 C500,285 440,290 380,315 C320,345 270,390 220,430 C170,465 120,480 80,485 C75,500 90,512 110,516 C140,520 160,523 180,536 C220,600 300,640 400,665 C470,680 540,662 600,636 C640,620 680,612 700,612 Q760,628 820,642 L910,632 Z"/><path d="M690,410 C600,370 500,360 420,375 C330,395 270,440 200,480 C160,500 120,506 90,498 M710,485 C640,460 560,450 480,455 C400,462 350,480 310,505 C380,520 450,510 520,490 C580,475 640,470 700,480 M640,575 C560,600 470,605 390,590 C320,575 270,555 230,530 M110,516 C160,521 220,516 300,506" fill="none" stroke-width="9"/><path d="M905,385 Q845,430 812,470 Q835,522 905,556" fill="#a69ca1" stroke-width="9"/><ellipse cx="815" cy="334" rx="62" ry="25" fill="#3d393b" stroke-width="8"/><ellipse cx="820" cy="330" rx="40" ry="13" fill="#1c1a1b" stroke="none"/><ellipse cx="815" cy="620" rx="70" ry="25" fill="#3d393b" stroke-width="8"/><ellipse cx="820" cy="624" rx="45" ry="13" fill="#1c1a1b" stroke="none"/><g fill="#2a2628" stroke="none" opacity="0.8"><circle cx="796" cy="537" r="3.6"/><circle cx="871" cy="362" r="2.9"/><circle cx="865" cy="383" r="2.9"/><circle cx="702" cy="488" r="3.1"/><circle cx="643" cy="408" r="2.6"/><circle cx="869" cy="543" r="2.3"/><circle cx="839" cy="389" r="3.2"/><circle cx="672" cy="355" r="3.7"/><circle cx="692" cy="408" r="4.0"/><circle cx="882" cy="574" r="2.6"/><circle cx="730" cy="396" r="2.3"/><circle cx="656" cy="429" r="3.2"/><circle cx="641" cy="521" r="2.7"/><circle cx="717" cy="556" r="3.0"/><circle cx="719" cy="473" r="3.4"/><circle cx="654" cy="594" r="2.0"/><circle cx="827" cy="562" r="2.0"/><circle cx="785" cy="357" r="2.1"/><circle cx="685" cy="589" r="2.4"/><circle cx="829" cy="583" r="3.9"/><circle cx="726" cy="442" r="3.0"/><circle cx="834" cy="381" r="3.5"/><circle cx="839" cy="566" r="2.1"/><circle cx="876" cy="377" r="2.7"/><circle cx="793" cy="580" r="2.7"/><circle cx="718" cy="433" r="2.4"/><circle cx="660" cy="391" r="3.4"/><circle cx="889" cy="395" r="2.1"/><circle cx="741" cy="413" r="3.2"/><circle cx="745" cy="369" r="3.8"/><circle cx="648" cy="476" r="3.7"/><circle cx="673" cy="534" r="3.9"/><circle cx="798" cy="548" r="2.2"/><circle cx="749" cy="392" r="3.7"/><circle cx="714" cy="466" r="4.0"/><circle cx="853" cy="594" r="2.9"/><circle cx="762" cy="534" r="3.0"/><circle cx="713" cy="454" r="2.3"/><circle cx="734" cy="597" r="3.9"/><circle cx="797" cy="477" r="2.7"/><circle cx="662" cy="422" r="3.6"/><circle cx="837" cy="545" r="3.4"/><circle cx="806" cy="541" r="2.7"/><circle cx="761" cy="544" r="3.4"/><circle cx="713" cy="587" r="3.3"/><circle cx="785" cy="358" r="3.1"/><circle cx="703" cy="520" r="2.9"/><circle cx="851" cy="568" r="3.4"/><circle cx="884" cy="589" r="3.0"/><circle cx="772" cy="396" r="3.7"/><circle cx="823" cy="397" r="3.6"/><circle cx="785" cy="518" r="2.8"/><circle cx="796" cy="545" r="3.3"/><circle cx="820" cy="362" r="2.3"/><circle cx="750" cy="514" r="2.4"/><circle cx="650" cy="471" r="2.5"/><circle cx="654" cy="388" r="2.6"/><circle cx="685" cy="402" r="2.1"/><circle cx="756" cy="448" r="3.2"/><circle cx="788" cy="413" r="3.8"/><circle cx="640" cy="454" r="2.6"/><circle cx="743" cy="383" r="3.7"/><circle cx="733" cy="364" r="3.2"/><circle cx="664" cy="489" r="2.7"/><circle cx="785" cy="590" r="3.6"/><circle cx="745" cy="554" r="3.3"/><circle cx="732" cy="390" r="3.2"/><circle cx="781" cy="590" r="3.9"/><circle cx="792" cy="441" r="3.8"/><circle cx="640" cy="381" r="3.1"/><circle cx="794" cy="389" r="3.3"/><circle cx="305" cy="491" r="3.0"/><circle cx="213" cy="500" r="2.1"/><circle cx="321" cy="238" r="1.9"/><circle cx="326" cy="488" r="1.5"/><circle cx="317" cy="470" r="1.9"/><circle cx="210" cy="231" r="2.9"/><circle cx="156" cy="233" r="2.7"/><circle cx="103" cy="466" r="2.2"/><circle cx="108" cy="488" r="1.7"/><circle cx="327" cy="470" r="3.0"/><circle cx="219" cy="220" r="1.7"/><circle cx="165" cy="472" r="2.6"/><circle cx="106" cy="468" r="2.6"/><circle cx="236" cy="220" r="2.3"/><circle cx="258" cy="234" r="2.3"/><circle cx="103" cy="494" r="2.5"/><circle cx="319" cy="498" r="2.8"/><circle cx="209" cy="242" r="2.2"/><circle cx="274" cy="475" r="2.5"/><circle cx="200" cy="472" r="2.2"/><circle cx="172" cy="236" r="2.3"/><circle cx="214" cy="471" r="2.1"/><circle cx="225" cy="221" r="1.8"/><circle cx="289" cy="231" r="1.5"/><circle cx="266" cy="236" r="2.6"/><circle cx="111" cy="224" r="2.5"/><circle cx="319" cy="244" r="2.6"/><circle cx="201" cy="238" r="2.1"/><circle cx="137" cy="229" r="1.7"/><circle cx="187" cy="224" r="2.4"/><circle cx="127" cy="498" r="1.7"/><circle cx="199" cy="473" r="2.2"/><circle cx="181" cy="477" r="1.7"/><circle cx="168" cy="477" r="2.3"/><circle cx="243" cy="463" r="1.9"/><circle cx="291" cy="470" r="1.7"/><circle cx="154" cy="469" r="2.1"/><circle cx="130" cy="230" r="1.6"/><circle cx="254" cy="234" r="2.3"/><circle cx="204" cy="498" r="2.2"/></g></g><path d="M700,128 Q698,100 712,84 L770,26 Q792,10 815,20 Q850,40 1035,186 Q860,330 835,350 Q800,372 775,352 L722,296 Q706,278 708,256 Z" fill="#a0959b" stroke="#111" stroke-width="3.8"/><path d="M355,130 Q362,122 380,124 Q540,136 700,127 Q860,150 1036,186 Q860,232 705,256 Q540,254 378,260 Q360,260 357,250 Q368,190 355,130Z" fill="#a0959b" stroke="#111" stroke-width="3.8"/><path d="M700,127 Q860,160 1036,186 M705,256 Q860,226 1036,186" fill="none" stroke="#111" stroke-width="2.4"/><g fill="#2a2628" opacity="0.85"><circle cx="661" cy="210" r="1.8"/><circle cx="670" cy="193" r="1.5"/><circle cx="486" cy="194" r="1.5"/><circle cx="895" cy="256" r="1.9"/><circle cx="768" cy="74" r="1.4"/><circle cx="669" cy="170" r="1.7"/><circle cx="705" cy="238" r="1.4"/><circle cx="799" cy="175" r="1.2"/><circle cx="915" cy="261" r="1.1"/><circle cx="777" cy="285" r="1.0"/><circle cx="481" cy="210" r="1.3"/><circle cx="451" cy="239" r="1.0"/><circle cx="503" cy="154" r="1.8"/><circle cx="871" cy="132" r="1.0"/><circle cx="424" cy="218" r="1.1"/><circle cx="759" cy="146" r="1.4"/><circle cx="993" cy="184" r="1.5"/><circle cx="901" cy="105" r="1.6"/><circle cx="760" cy="163" r="1.0"/><circle cx="756" cy="120" r="1.6"/><circle cx="541" cy="172" r="1.0"/><circle cx="480" cy="145" r="1.5"/><circle cx="451" cy="143" r="1.8"/><circle cx="818" cy="219" r="1.0"/><circle cx="782" cy="184" r="1.6"/><circle cx="414" cy="206" r="1.6"/><circle cx="615" cy="218" r="1.5"/><circle cx="418" cy="237" r="1.9"/><circle cx="746" cy="170" r="1.7"/><circle cx="385" cy="224" r="1.4"/><circle cx="691" cy="229" r="1.8"/><circle cx="562" cy="251" r="1.1"/><circle cx="797" cy="170" r="1.8"/><circle cx="579" cy="246" r="1.1"/><circle cx="617" cy="218" r="1.2"/><circle cx="454" cy="189" r="1.7"/><circle cx="505" cy="161" r="1.5"/><circle cx="777" cy="172" r="1.5"/><circle cx="706" cy="229" r="1.7"/><circle cx="450" cy="174" r="1.5"/><circle cx="717" cy="289" r="1.8"/><circle cx="926" cy="138" r="1.3"/><circle cx="478" cy="134" r="1.7"/><circle cx="783" cy="198" r="1.7"/><circle cx="732" cy="126" r="1.7"/><circle cx="708" cy="215" r="1.1"/><circle cx="716" cy="191" r="1.5"/><circle cx="703" cy="156" r="1.7"/><circle cx="734" cy="187" r="1.6"/><circle cx="408" cy="203" r="1.3"/><circle cx="541" cy="181" r="1.0"/><circle cx="955" cy="182" r="1.2"/><circle cx="490" cy="230" r="1.8"/><circle cx="576" cy="141" r="1.5"/><circle cx="445" cy="194" r="1.2"/><circle cx="495" cy="200" r="1.3"/><circle cx="611" cy="161" r="1.4"/><circle cx="841" cy="108" r="1.7"/><circle cx="448" cy="157" r="1.6"/><circle cx="441" cy="192" r="1.7"/><circle cx="726" cy="195" r="1.5"/><circle cx="579" cy="179" r="1.4"/><circle cx="647" cy="224" r="0.9"/><circle cx="824" cy="307" r="1.4"/><circle cx="849" cy="158" r="1.1"/><circle cx="630" cy="224" r="1.4"/><circle cx="868" cy="280" r="1.6"/><circle cx="411" cy="136" r="1.4"/><circle cx="372" cy="141" r="1.5"/><circle cx="738" cy="201" r="1.3"/><circle cx="380" cy="229" r="1.6"/><circle cx="533" cy="157" r="1.0"/><circle cx="493" cy="148" r="1.0"/><circle cx="725" cy="193" r="1.9"/><circle cx="783" cy="295" r="1.5"/><circle cx="690" cy="228" r="1.0"/><circle cx="757" cy="144" r="1.2"/><circle cx="794" cy="211" r="1.2"/><circle cx="834" cy="121" r="1.1"/><circle cx="646" cy="182" r="1.9"/><circle cx="525" cy="198" r="1.8"/><circle cx="838" cy="179" r="1.9"/><circle cx="900" cy="225" r="1.5"/><circle cx="399" cy="200" r="1.0"/><circle cx="655" cy="247" r="1.4"/><circle cx="537" cy="218" r="1.3"/><circle cx="875" cy="200" r="1.9"/><circle cx="774" cy="142" r="1.6"/><circle cx="735" cy="221" r="1.5"/><circle cx="858" cy="85" r="1.9"/><circle cx="542" cy="165" r="1.5"/><circle cx="432" cy="204" r="1.0"/><circle cx="422" cy="250" r="1.5"/><circle cx="778" cy="147" r="1.4"/><circle cx="503" cy="137" r="1.6"/><circle cx="774" cy="281" r="1.3"/><circle cx="607" cy="242" r="1.9"/><circle cx="578" cy="207" r="1.6"/><circle cx="968" cy="165" r="1.0"/><circle cx="419" cy="212" r="1.4"/><circle cx="799" cy="48" r="1.6"/><circle cx="820" cy="116" r="1.3"/><circle cx="841" cy="145" r="1.6"/><circle cx="602" cy="144" r="1.3"/><circle cx="624" cy="152" r="1.1"/><circle cx="913" cy="211" r="1.7"/><circle cx="380" cy="195" r="1.4"/><circle cx="792" cy="293" r="1.4"/><circle cx="790" cy="103" r="1.7"/><circle cx="707" cy="280" r="1.2"/><circle cx="688" cy="203" r="1.6"/><circle cx="641" cy="163" r="1.0"/><circle cx="499" cy="164" r="1.2"/><circle cx="789" cy="284" r="1.0"/><circle cx="665" cy="219" r="1.8"/><circle cx="755" cy="96" r="1.2"/><circle cx="569" cy="206" r="1.7"/><circle cx="589" cy="206" r="1.9"/><circle cx="675" cy="146" r="1.7"/><circle cx="832" cy="226" r="1.1"/><circle cx="934" cy="195" r="1.5"/><circle cx="429" cy="183" r="1.4"/><circle cx="502" cy="205" r="1.4"/><circle cx="434" cy="154" r="1.4"/><circle cx="521" cy="212" r="1.4"/><circle cx="769" cy="119" r="1.4"/><circle cx="560" cy="135" r="1.3"/><circle cx="802" cy="107" r="1.6"/><circle cx="734" cy="266" r="1.7"/><circle cx="427" cy="250" r="1.6"/><circle cx="483" cy="157" r="1.7"/><circle cx="446" cy="158" r="1.0"/><circle cx="618" cy="133" r="1.3"/><circle cx="375" cy="156" r="1.6"/><circle cx="797" cy="227" r="0.9"/><circle cx="582" cy="136" r="1.6"/><circle cx="435" cy="148" r="1.4"/><circle cx="956" cy="206" r="1.4"/><circle cx="525" cy="216" r="1.6"/><circle cx="602" cy="177" r="1.0"/><circle cx="523" cy="215" r="1.7"/><circle cx="487" cy="206" r="1.0"/><circle cx="496" cy="179" r="1.0"/><circle cx="618" cy="214" r="1.1"/><circle cx="583" cy="238" r="0.9"/><circle cx="758" cy="180" r="1.3"/><circle cx="857" cy="185" r="1.9"/><circle cx="633" cy="168" r="1.5"/><circle cx="958" cy="199" r="1.4"/><circle cx="844" cy="223" r="1.7"/><circle cx="565" cy="222" r="1.0"/><circle cx="447" cy="172" r="1.4"/><circle cx="820" cy="199" r="1.1"/><circle cx="566" cy="154" r="1.1"/><circle cx="446" cy="203" r="1.9"/><circle cx="899" cy="155" r="1.5"/><circle cx="1005" cy="181" r="1.2"/><circle cx="597" cy="181" r="1.1"/><circle cx="497" cy="235" r="1.1"/><circle cx="979" cy="171" r="1.1"/><circle cx="519" cy="246" r="1.7"/><circle cx="609" cy="245" r="1.8"/><circle cx="751" cy="98" r="1.8"/><circle cx="653" cy="200" r="1.4"/><circle cx="395" cy="224" r="1.2"/><circle cx="860" cy="104" r="1.4"/><circle cx="729" cy="239" r="1.3"/><circle cx="813" cy="197" r="1.9"/><circle cx="473" cy="227" r="1.1"/><circle cx="880" cy="289" r="1.4"/><circle cx="510" cy="217" r="1.4"/><circle cx="388" cy="223" r="1.6"/><circle cx="377" cy="189" r="1.3"/><circle cx="884" cy="101" r="1.2"/><circle cx="772" cy="199" r="1.2"/><circle cx="405" cy="160" r="1.3"/><circle cx="393" cy="186" r="1.7"/><circle cx="865" cy="270" r="1.2"/><circle cx="629" cy="241" r="1.0"/><circle cx="668" cy="154" r="1.7"/><circle cx="506" cy="138" r="1.1"/><circle cx="810" cy="313" r="1.3"/><circle cx="537" cy="154" r="1.8"/><circle cx="833" cy="111" r="1.1"/><circle cx="570" cy="164" r="1.4"/><circle cx="801" cy="70" r="1.2"/><circle cx="832" cy="158" r="1.3"/><circle cx="556" cy="137" r="1.1"/><circle cx="778" cy="212" r="1.7"/><circle cx="804" cy="332" r="1.6"/><circle cx="519" cy="235" r="1.0"/><circle cx="645" cy="153" r="1.0"/><circle cx="469" cy="157" r="1.4"/><circle cx="474" cy="246" r="1.1"/><circle cx="426" cy="136" r="1.3"/><circle cx="464" cy="218" r="1.6"/><circle cx="727" cy="258" r="1.3"/><circle cx="690" cy="219" r="1.4"/><circle cx="380" cy="138" r="1.8"/><circle cx="487" cy="180" r="1.5"/><circle cx="634" cy="161" r="1.2"/><circle cx="515" cy="251" r="1.1"/><circle cx="366" cy="205" r="1.3"/><circle cx="522" cy="188" r="1.6"/><circle cx="724" cy="232" r="1.5"/><circle cx="583" cy="138" r="1.8"/><circle cx="772" cy="187" r="1.5"/><circle cx="856" cy="202" r="1.1"/><circle cx="481" cy="195" r="1.0"/><circle cx="439" cy="174" r="1.7"/><circle cx="579" cy="134" r="1.7"/><circle cx="737" cy="163" r="1.6"/><circle cx="447" cy="148" r="1.6"/><circle cx="374" cy="219" r="1.8"/><circle cx="815" cy="163" r="1.5"/><circle cx="832" cy="60" r="1.2"/><circle cx="444" cy="132" r="0.9"/><circle cx="720" cy="184" r="1.3"/><circle cx="914" cy="116" r="1.5"/><circle cx="723" cy="292" r="1.1"/><circle cx="530" cy="186" r="1.0"/><circle cx="775" cy="113" r="1.4"/><circle cx="682" cy="161" r="1.7"/><circle cx="726" cy="243" r="1.5"/><circle cx="840" cy="80" r="1.1"/><circle cx="568" cy="195" r="0.9"/><circle cx="372" cy="199" r="1.7"/><circle cx="884" cy="270" r="1.7"/><circle cx="380" cy="216" r="1.1"/><circle cx="619" cy="146" r="1.6"/><circle cx="427" cy="134" r="1.6"/><circle cx="723" cy="251" r="1.0"/><circle cx="459" cy="139" r="1.3"/><circle cx="371" cy="191" r="1.3"/><circle cx="576" cy="203" r="1.9"/><circle cx="509" cy="159" r="1.6"/><circle cx="809" cy="342" r="1.1"/><circle cx="462" cy="236" r="1.3"/><circle cx="777" cy="192" r="1.5"/><circle cx="817" cy="174" r="1.6"/><circle cx="640" cy="151" r="1.1"/><circle cx="758" cy="215" r="1.4"/><circle cx="386" cy="233" r="1.3"/><circle cx="754" cy="222" r="1.8"/><circle cx="465" cy="179" r="1.9"/><circle cx="1013" cy="187" r="1.1"/><circle cx="662" cy="202" r="1.8"/><circle cx="881" cy="187" r="1.1"/><circle cx="870" cy="207" r="1.8"/><circle cx="389" cy="138" r="1.8"/><circle cx="484" cy="152" r="1.7"/><circle cx="769" cy="327" r="1.9"/><circle cx="500" cy="234" r="1.8"/><circle cx="820" cy="81" r="1.6"/><circle cx="765" cy="142" r="1.9"/><circle cx="818" cy="270" r="1.2"/><circle cx="778" cy="164" r="1.7"/><circle cx="633" cy="175" r="1.4"/><circle cx="808" cy="175" r="1.8"/><circle cx="759" cy="172" r="1.0"/></g></g>
<rect x="177.7" y="581.0" width="882.3" height="344.8" fill="none" stroke="#333333" stroke-width="2.6"/>
<line x1="216.8" y1="925.8" x2="216.8" y2="937.8" stroke="#333333" stroke-width="4.6"/>
<text x="216.8" y="973.9" text-anchor="middle" font-size="36.5" fill="#4d4d4d">0</text>
<line x1="417.5" y1="925.8" x2="417.5" y2="937.8" stroke="#333333" stroke-width="4.6"/>
<text x="417.5" y="973.9" text-anchor="middle" font-size="36.5" fill="#4d4d4d">24</text>
<line x1="618.3" y1="925.8" x2="618.3" y2="937.8" stroke="#333333" stroke-width="4.6"/>
<text x="618.3" y="973.9" text-anchor="middle" font-size="36.5" fill="#4d4d4d">48</text>
<line x1="820.0" y1="925.8" x2="820.0" y2="937.8" stroke="#333333" stroke-width="4.6"/>
<text x="820.0" y="973.9" text-anchor="middle" font-size="36.5" fill="#4d4d4d">72</text>
<line x1="1020.9" y1="925.8" x2="1020.9" y2="937.8" stroke="#333333" stroke-width="4.6"/>
<text x="1020.9" y="973.9" text-anchor="middle" font-size="36.5" fill="#4d4d4d">96</text>
<line x1="165.7" y1="596.7" x2="177.7" y2="596.7" stroke="#333333" stroke-width="4.6"/>
<text x="157.7" y="610.7" text-anchor="end" font-size="36.5" fill="#4d4d4d">50</text>
<line x1="165.7" y1="666.0" x2="177.7" y2="666.0" stroke="#333333" stroke-width="4.6"/>
<text x="157.7" y="680.0" text-anchor="end" font-size="36.5" fill="#4d4d4d">40</text>
<line x1="165.7" y1="735.3" x2="177.7" y2="735.3" stroke="#333333" stroke-width="4.6"/>
<text x="157.7" y="749.3" text-anchor="end" font-size="36.5" fill="#4d4d4d">30</text>
<line x1="165.7" y1="804.6" x2="177.7" y2="804.6" stroke="#333333" stroke-width="4.6"/>
<text x="157.7" y="818.6" text-anchor="end" font-size="36.5" fill="#4d4d4d">20</text>
<line x1="165.7" y1="873.9" x2="177.7" y2="873.9" stroke="#333333" stroke-width="4.6"/>
<text x="157.7" y="887.9" text-anchor="end" font-size="36.5" fill="#4d4d4d">10</text>
<text x="179.5" y="548.0" font-size="50.6" font-style="italic" fill="#000">D. opalescens</text>
<text x="84.0" y="537.8" font-size="27.3" font-weight="bold" fill="#000">B</text>
</g>
<g>
<line x1="323.5" y1="1090.0" x2="323.5" y2="1434.4" stroke="#ebecee" stroke-width="2.4"/>
<line x1="478.8" y1="1090.0" x2="478.8" y2="1434.4" stroke="#ebecee" stroke-width="2.4"/>
<line x1="634.0" y1="1090.0" x2="634.0" y2="1434.4" stroke="#ebecee" stroke-width="2.4"/>
<line x1="789.3" y1="1090.0" x2="789.3" y2="1434.4" stroke="#ebecee" stroke-width="2.4"/>
<line x1="944.5" y1="1090.0" x2="944.5" y2="1434.4" stroke="#ebecee" stroke-width="2.4"/>
<line x1="208.5" y1="1129.0" x2="1060.0" y2="1129.0" stroke="#ebecee" stroke-width="2.4"/>
<line x1="208.5" y1="1209.4" x2="1060.0" y2="1209.4" stroke="#ebecee" stroke-width="2.4"/>
<line x1="208.5" y1="1289.9" x2="1060.0" y2="1289.9" stroke="#ebecee" stroke-width="2.4"/>
<line x1="208.5" y1="1370.3" x2="1060.0" y2="1370.3" stroke="#ebecee" stroke-width="2.4"/>
<line x1="245.8" y1="1090.0" x2="245.8" y2="1434.4" stroke="#ebecee" stroke-width="4.7"/>
<line x1="401.1" y1="1090.0" x2="401.1" y2="1434.4" stroke="#ebecee" stroke-width="4.7"/>
<line x1="556.4" y1="1090.0" x2="556.4" y2="1434.4" stroke="#ebecee" stroke-width="4.7"/>
<line x1="711.7" y1="1090.0" x2="711.7" y2="1434.4" stroke="#ebecee" stroke-width="4.7"/>
<line x1="866.9" y1="1090.0" x2="866.9" y2="1434.4" stroke="#ebecee" stroke-width="4.7"/>
<line x1="1022.2" y1="1090.0" x2="1022.2" y2="1434.4" stroke="#ebecee" stroke-width="4.7"/>
<line x1="208.5" y1="1169.2" x2="1060.0" y2="1169.2" stroke="#ebecee" stroke-width="4.7"/>
<line x1="208.5" y1="1249.7" x2="1060.0" y2="1249.7" stroke="#ebecee" stroke-width="4.7"/>
<line x1="208.5" y1="1330.1" x2="1060.0" y2="1330.1" stroke="#ebecee" stroke-width="4.7"/>
<line x1="208.5" y1="1410.5" x2="1060.0" y2="1410.5" stroke="#ebecee" stroke-width="4.7"/>
<circle cx="245.8" cy="1105.0" r="8.5" fill="#000"/>
<circle cx="245.8" cy="1141.4" r="8.5" fill="#000"/>
<circle cx="245.8" cy="1145.3" r="8.5" fill="#000"/>
<circle cx="245.8" cy="1165.0" r="8.5" fill="#000"/>
<circle cx="245.8" cy="1176.9" r="8.5" fill="#000"/>
<circle cx="245.8" cy="1196.7" r="8.5" fill="#000"/>
<circle cx="245.8" cy="1254.8" r="8.5" fill="#000"/>
<circle cx="401.1" cy="1267.8" r="8.5" fill="#000"/>
<circle cx="401.1" cy="1319.2" r="8.5" fill="#000"/>
<circle cx="401.1" cy="1333.0" r="8.5" fill="#000"/>
<circle cx="401.1" cy="1340.9" r="8.5" fill="#000"/>
<circle cx="401.1" cy="1346.8" r="8.5" fill="#000"/>
<circle cx="401.1" cy="1365.8" r="8.5" fill="#000"/>
<circle cx="556.4" cy="1338.9" r="8.5" fill="#000"/>
<circle cx="556.4" cy="1376.4" r="8.5" fill="#000"/>
<circle cx="556.4" cy="1386.3" r="8.5" fill="#000"/>
<circle cx="556.4" cy="1396.2" r="8.5" fill="#000"/>
<circle cx="556.4" cy="1409.2" r="8.5" fill="#000"/>
<circle cx="711.7" cy="1359.6" r="8.5" fill="#000"/>
<circle cx="711.7" cy="1383.4" r="8.5" fill="#000"/>
<circle cx="711.7" cy="1393.8" r="8.5" fill="#000"/>
<circle cx="711.7" cy="1408.4" r="8.5" fill="#000"/>
<circle cx="866.9" cy="1363.3" r="8.5" fill="#000"/>
<circle cx="866.9" cy="1385.4" r="8.5" fill="#000"/>
<circle cx="866.9" cy="1396.7" r="8.5" fill="#000"/>
<circle cx="866.9" cy="1409.2" r="8.5" fill="#000"/>
<circle cx="866.9" cy="1420.0" r="8.5" fill="#000"/>
<circle cx="1022.2" cy="1362.5" r="8.5" fill="#000"/>
<circle cx="1022.2" cy="1385.4" r="8.5" fill="#000"/>
<circle cx="1022.2" cy="1396.7" r="8.5" fill="#000"/>
<circle cx="1022.2" cy="1409.2" r="8.5" fill="#000"/>
<path d="M245.8,1160.5 L246.8,1161.6 L248.0,1162.9 L249.4,1164.5 L250.9,1166.3 L252.7,1168.2 L254.5,1170.3 L256.4,1172.4 L258.3,1174.6 L260.2,1176.8 L262.1,1179.0 L263.9,1181.0 L265.6,1183.0 L267.2,1184.9 L268.9,1186.9 L270.5,1188.8 L272.2,1190.7 L273.8,1192.7 L275.4,1194.6 L277.1,1196.6 L278.7,1198.6 L280.4,1200.5 L282.0,1202.4 L283.7,1204.3 L285.3,1206.2 L286.9,1208.1 L288.6,1210.0 L290.2,1211.9 L291.9,1213.8 L293.5,1215.6 L295.2,1217.5 L296.9,1219.4 L298.5,1221.2 L300.2,1223.0 L301.8,1224.8 L303.5,1226.6 L305.1,1228.4 L306.7,1230.1 L308.4,1231.8 L310.0,1233.6 L311.7,1235.3 L313.3,1236.9 L314.9,1238.6 L316.6,1240.3 L318.2,1241.9 L319.9,1243.5 L321.5,1245.2 L323.2,1246.8 L324.8,1248.4 L326.4,1250.0 L328.1,1251.6 L329.7,1253.2 L331.4,1254.8 L333.0,1256.3 L334.7,1257.9 L336.4,1259.4 L338.0,1261.0 L339.7,1262.5 L341.3,1264.0 L343.0,1265.5 L344.6,1267.0 L346.2,1268.5 L347.9,1269.9 L349.5,1271.4 L351.2,1272.8 L352.8,1274.3 L354.4,1275.7 L356.1,1277.1 L357.7,1278.5 L359.4,1279.9 L361.0,1281.3 L362.7,1282.6 L364.3,1284.0 L366.0,1285.4 L367.6,1286.7 L369.3,1288.1 L371.0,1289.5 L372.7,1290.9 L374.4,1292.2 L376.0,1293.6 L377.7,1294.9 L379.3,1296.2 L381.0,1297.4 L382.5,1298.6 L384.1,1299.8 L385.6,1300.9 L387.1,1302.0 L388.5,1303.0 L389.9,1304.0 L391.3,1305.0 L392.7,1306.0 L394.1,1306.9 L395.4,1307.8 L396.8,1308.7 L398.2,1309.7 L399.6,1310.6 L401.1,1311.6 L402.6,1312.6 L404.1,1313.6 L405.6,1314.6 L407.1,1315.6 L408.6,1316.6 L410.2,1317.5 L411.7,1318.5 L413.3,1319.5 L414.8,1320.5 L416.4,1321.5 L418.0,1322.4 L419.6,1323.4 L421.2,1324.3 L422.8,1325.3 L424.5,1326.2 L426.1,1327.1 L427.8,1328.0 L429.4,1328.9 L431.1,1329.8 L432.8,1330.7 L434.4,1331.6 L436.1,1332.5 L437.7,1333.4 L439.4,1334.3 L441.1,1335.1 L442.7,1336.0 L444.4,1336.8 L446.0,1337.7 L447.7,1338.5 L449.3,1339.3 L451.0,1340.2 L452.6,1341.0 L454.3,1341.7 L455.9,1342.5 L457.6,1343.3 L459.2,1344.0 L460.8,1344.7 L462.5,1345.5 L464.1,1346.1 L465.8,1346.8 L467.4,1347.5 L469.0,1348.1 L470.7,1348.8 L472.3,1349.4 L474.0,1350.0 L475.6,1350.6 L477.3,1351.2 L478.9,1351.8 L480.5,1352.4 L482.2,1352.9 L483.8,1353.5 L485.5,1354.0 L487.1,1354.6 L488.8,1355.1 L490.5,1355.6 L492.1,1356.1 L493.8,1356.6 L495.4,1357.1 L497.1,1357.6 L498.7,1358.1 L500.3,1358.6 L502.0,1359.1 L503.6,1359.6 L505.3,1360.1 L506.9,1360.6 L508.5,1361.1 L510.2,1361.5 L511.8,1362.0 L513.5,1362.4 L515.1,1362.9 L516.8,1363.3 L518.4,1363.7 L520.1,1364.1 L521.7,1364.5 L523.4,1364.9 L525.1,1365.3 L526.7,1365.7 L528.4,1366.1 L530.1,1366.4 L531.7,1366.8 L533.4,1367.1 L535.0,1367.4 L536.6,1367.7 L538.2,1368.1 L539.7,1368.3 L541.2,1368.6 L542.6,1368.9 L544.0,1369.1 L545.3,1369.3 L546.7,1369.5 L548.1,1369.7 L549.6,1370.0 L551.1,1370.2 L552.7,1370.4 L554.5,1370.6 L556.4,1370.9 L558.4,1371.2 L560.6,1371.4 L562.8,1371.7 L565.1,1372.0 L567.5,1372.3 L570.0,1372.6 L572.5,1372.9 L575.1,1373.2 L577.7,1373.5 L580.3,1373.8 L582.9,1374.1 L585.6,1374.3 L588.2,1374.6 L590.9,1374.8 L593.6,1375.1 L596.3,1375.3 L599.0,1375.5 L601.8,1375.7 L604.6,1376.0 L607.5,1376.2 L610.5,1376.3 L613.5,1376.5 L616.7,1376.6 L620.0,1376.7 L623.4,1376.8 L627.0,1376.8 L630.6,1376.8 L634.4,1376.8 L638.3,1376.8 L642.2,1376.7 L646.1,1376.7 L650.1,1376.6 L654.1,1376.5 L658.0,1376.5 L661.9,1376.4 L665.8,1376.3 L669.7,1376.2 L673.6,1376.1 L677.6,1375.9 L681.6,1375.8 L685.6,1375.6 L689.5,1375.5 L693.5,1375.3 L697.3,1375.2 L701.1,1375.1 L704.8,1375.0 L708.3,1375.0 L711.7,1375.0 L714.9,1375.1 L717.9,1375.2 L720.7,1375.3 L723.4,1375.5 L726.0,1375.8 L728.6,1376.0 L731.2,1376.2 L733.7,1376.5 L736.4,1376.8 L739.1,1377.0 L742.0,1377.3 L745.0,1377.5 L748.1,1377.7 L751.0,1378.0 L753.9,1378.2 L756.9,1378.4 L759.8,1378.7 L762.9,1378.9 L766.2,1379.2 L769.7,1379.4 L773.4,1379.7 L777.4,1379.9 L781.9,1380.2 L786.7,1380.4 L792.0,1380.7 L797.8,1380.9 L804.0,1381.2 L810.6,1381.5 L817.4,1381.8 L824.4,1382.1 L831.5,1382.4 L838.7,1382.6 L845.9,1382.9 L853.0,1383.1 L860.0,1383.3 L866.7,1383.4 L873.4,1383.5 L880.3,1383.6 L887.3,1383.7 L894.3,1383.7 L901.3,1383.7 L908.2,1383.7 L915.1,1383.7 L921.7,1383.7 L928.0,1383.6 L934.1,1383.6 L939.8,1383.5 L945.0,1383.4 L949.8,1383.3 L954.1,1383.2 L958.1,1383.1 L961.8,1382.9 L965.3,1382.7 L968.5,1382.6 L971.6,1382.4 L974.6,1382.2 L977.6,1382.0 L980.5,1381.7 L983.6,1381.5 L986.7,1381.3 L990.0,1381.1 L993.4,1380.8 L996.8,1380.5 L1000.3,1380.1 L1003.7,1379.8 L1007.1,1379.5 L1010.2,1379.1 L1013.2,1378.8 L1016.0,1378.5 L1018.4,1378.3 L1020.5,1378.1 L1022.2,1377.9 L1022.2,1405.0 L1020.5,1404.9 L1018.4,1404.7 L1016.0,1404.5 L1013.2,1404.2 L1010.2,1404.0 L1007.1,1403.7 L1003.7,1403.4 L1000.3,1403.1 L996.8,1402.8 L993.4,1402.6 L990.0,1402.3 L986.7,1402.1 L983.6,1401.9 L980.5,1401.7 L977.6,1401.5 L974.6,1401.3 L971.6,1401.1 L968.5,1400.9 L965.3,1400.7 L961.8,1400.5 L958.1,1400.4 L954.1,1400.2 L949.8,1400.1 L945.0,1400.0 L939.8,1399.9 L934.1,1399.9 L928.0,1399.8 L921.7,1399.8 L915.1,1399.8 L908.2,1399.8 L901.3,1399.8 L894.3,1399.8 L887.3,1399.9 L880.3,1399.9 L873.4,1399.9 L866.7,1400.0 L860.0,1400.1 L853.0,1400.1 L845.9,1400.2 L838.7,1400.3 L831.5,1400.5 L824.4,1400.6 L817.4,1400.7 L810.6,1400.8 L804.0,1401.0 L797.8,1401.1 L792.0,1401.2 L786.7,1401.3 L781.9,1401.4 L777.4,1401.5 L773.4,1401.6 L769.7,1401.7 L766.2,1401.8 L762.9,1401.9 L759.8,1402.0 L756.9,1402.1 L753.9,1402.2 L751.0,1402.3 L748.1,1402.4 L745.0,1402.5 L742.0,1402.6 L739.1,1402.7 L736.4,1402.8 L733.7,1402.9 L731.2,1403.0 L728.6,1403.2 L726.0,1403.3 L723.4,1403.3 L720.7,1403.4 L717.9,1403.4 L714.9,1403.4 L711.7,1403.4 L708.3,1403.3 L704.8,1403.2 L701.1,1403.1 L697.3,1403.0 L693.5,1402.8 L689.5,1402.6 L685.6,1402.4 L681.6,1402.2 L677.6,1402.0 L673.6,1401.7 L669.7,1401.5 L665.8,1401.3 L661.9,1401.1 L658.0,1400.8 L654.1,1400.6 L650.1,1400.3 L646.1,1400.0 L642.2,1399.8 L638.3,1399.5 L634.4,1399.2 L630.6,1399.0 L627.0,1398.7 L623.4,1398.5 L620.0,1398.3 L616.7,1398.1 L613.5,1398.0 L610.5,1397.8 L607.5,1397.7 L604.6,1397.6 L601.8,1397.5 L599.0,1397.4 L596.3,1397.3 L593.6,1397.1 L590.9,1397.0 L588.2,1396.8 L585.6,1396.7 L582.9,1396.5 L580.3,1396.3 L577.7,1396.1 L575.1,1395.9 L572.5,1395.6 L570.0,1395.4 L567.5,1395.2 L565.1,1394.9 L562.8,1394.7 L560.6,1394.4 L558.4,1394.2 L556.4,1393.9 L554.5,1393.6 L552.7,1393.4 L551.1,1393.1 L549.6,1392.8 L548.1,1392.6 L546.7,1392.3 L545.3,1392.0 L544.0,1391.7 L542.6,1391.4 L541.2,1391.0 L539.7,1390.7 L538.2,1390.3 L536.6,1390.0 L535.0,1389.6 L533.4,1389.2 L531.7,1388.8 L530.1,1388.4 L528.4,1388.0 L526.7,1387.6 L525.1,1387.1 L523.4,1386.7 L521.7,1386.2 L520.1,1385.7 L518.4,1385.3 L516.8,1384.8 L515.1,1384.3 L513.5,1383.8 L511.8,1383.3 L510.2,1382.7 L508.5,1382.2 L506.9,1381.7 L505.3,1381.1 L503.6,1380.6 L502.0,1380.0 L500.3,1379.4 L498.7,1378.9 L497.1,1378.3 L495.4,1377.8 L493.8,1377.2 L492.1,1376.6 L490.5,1376.0 L488.8,1375.4 L487.1,1374.9 L485.5,1374.3 L483.8,1373.7 L482.2,1373.0 L480.5,1372.4 L478.9,1371.8 L477.3,1371.2 L475.6,1370.5 L474.0,1369.9 L472.3,1369.3 L470.7,1368.6 L469.0,1368.0 L467.4,1367.3 L465.8,1366.6 L464.1,1365.9 L462.5,1365.2 L460.8,1364.5 L459.2,1363.8 L457.6,1363.0 L455.9,1362.2 L454.3,1361.4 L452.6,1360.6 L451.0,1359.8 L449.3,1359.0 L447.7,1358.1 L446.0,1357.2 L444.4,1356.4 L442.7,1355.5 L441.1,1354.6 L439.4,1353.7 L437.7,1352.9 L436.1,1352.0 L434.4,1351.1 L432.8,1350.2 L431.1,1349.2 L429.4,1348.3 L427.8,1347.4 L426.1,1346.4 L424.5,1345.5 L422.8,1344.5 L421.2,1343.6 L419.6,1342.6 L418.0,1341.6 L416.4,1340.7 L414.8,1339.7 L413.3,1338.7 L411.7,1337.7 L410.2,1336.7 L408.6,1335.6 L407.1,1334.6 L405.6,1333.6 L404.1,1332.6 L402.6,1331.6 L401.1,1330.6 L399.6,1329.6 L398.2,1328.7 L396.8,1327.7 L395.4,1326.8 L394.1,1325.9 L392.7,1324.9 L391.3,1324.0 L389.9,1323.0 L388.5,1322.0 L387.1,1321.0 L385.6,1319.9 L384.1,1318.8 L382.5,1317.6 L381.0,1316.4 L379.3,1315.2 L377.7,1313.9 L376.0,1312.6 L374.4,1311.2 L372.7,1309.9 L371.0,1308.5 L369.3,1307.1 L367.6,1305.7 L366.0,1304.4 L364.3,1303.0 L362.7,1301.6 L361.0,1300.3 L359.4,1298.9 L357.7,1297.5 L356.1,1296.1 L354.4,1294.7 L352.8,1293.3 L351.2,1291.8 L349.5,1290.4 L347.9,1288.9 L346.2,1287.5 L344.6,1286.0 L343.0,1284.5 L341.3,1283.0 L339.7,1281.5 L338.0,1279.9 L336.4,1278.4 L334.7,1276.8 L333.0,1275.3 L331.4,1273.7 L329.7,1272.1 L328.1,1270.6 L326.4,1269.0 L324.8,1267.4 L323.2,1265.8 L321.5,1264.2 L319.9,1262.7 L318.2,1261.1 L316.6,1259.5 L314.9,1257.9 L313.3,1256.3 L311.7,1254.7 L310.0,1253.0 L308.4,1251.4 L306.7,1249.7 L305.1,1248.0 L303.5,1246.3 L301.8,1244.6 L300.2,1242.8 L298.5,1241.1 L296.9,1239.3 L295.2,1237.5 L293.5,1235.7 L291.9,1233.9 L290.2,1232.1 L288.6,1230.2 L286.9,1228.4 L285.3,1226.6 L283.7,1224.7 L282.0,1222.9 L280.4,1221.1 L278.7,1219.3 L277.1,1217.4 L275.4,1215.6 L273.8,1213.7 L272.2,1211.8 L270.5,1209.9 L268.9,1208.0 L267.2,1206.0 L265.6,1204.0 L263.9,1201.8 L262.1,1199.5 L260.2,1197.0 L258.3,1194.5 L256.4,1191.9 L254.5,1189.3 L252.7,1186.9 L250.9,1184.5 L249.4,1182.4 L248.0,1180.4 L246.8,1178.8 L245.8,1177.5Z" fill="#999999" fill-opacity="0.45"/>
<path d="M245.8,1169.0 L246.8,1170.2 L248.0,1171.7 L249.4,1173.4 L250.9,1175.4 L252.7,1177.6 L254.5,1179.8 L256.4,1182.2 L258.3,1184.5 L260.2,1186.9 L262.1,1189.2 L263.9,1191.4 L265.6,1193.5 L267.2,1195.5 L268.9,1197.4 L270.5,1199.4 L272.2,1201.3 L273.8,1203.2 L275.4,1205.1 L277.1,1207.0 L278.7,1208.9 L280.4,1210.8 L282.0,1212.7 L283.7,1214.5 L285.3,1216.4 L286.9,1218.3 L288.6,1220.1 L290.2,1222.0 L291.9,1223.8 L293.5,1225.7 L295.2,1227.5 L296.9,1229.3 L298.5,1231.1 L300.2,1232.9 L301.8,1234.7 L303.5,1236.5 L305.1,1238.2 L306.7,1239.9 L308.4,1241.6 L310.0,1243.3 L311.7,1245.0 L313.3,1246.6 L314.9,1248.2 L316.6,1249.9 L318.2,1251.5 L319.9,1253.1 L321.5,1254.7 L323.2,1256.3 L324.8,1257.9 L326.4,1259.5 L328.1,1261.1 L329.7,1262.7 L331.4,1264.2 L333.0,1265.8 L334.7,1267.4 L336.4,1268.9 L338.0,1270.5 L339.7,1272.0 L341.3,1273.5 L343.0,1275.0 L344.6,1276.5 L346.2,1278.0 L347.9,1279.4 L349.5,1280.9 L351.2,1282.3 L352.8,1283.8 L354.4,1285.2 L356.1,1286.6 L357.7,1288.0 L359.4,1289.4 L361.0,1290.8 L362.7,1292.1 L364.3,1293.5 L366.0,1294.9 L367.6,1296.2 L369.3,1297.6 L371.0,1299.0 L372.7,1300.4 L374.4,1301.7 L376.0,1303.1 L377.7,1304.4 L379.3,1305.7 L381.0,1306.9 L382.5,1308.1 L384.1,1309.3 L385.6,1310.4 L387.1,1311.5 L388.5,1312.5 L389.9,1313.5 L391.3,1314.5 L392.7,1315.4 L394.1,1316.4 L395.4,1317.3 L396.8,1318.2 L398.2,1319.2 L399.6,1320.1 L401.1,1321.1 L402.6,1322.1 L404.1,1323.1 L405.6,1324.1 L407.1,1325.1 L408.6,1326.1 L410.2,1327.1 L411.7,1328.1 L413.3,1329.1 L414.8,1330.1 L416.4,1331.1 L418.0,1332.0 L419.6,1333.0 L421.2,1334.0 L422.8,1334.9 L424.5,1335.8 L426.1,1336.8 L427.8,1337.7 L429.4,1338.6 L431.1,1339.5 L432.8,1340.4 L434.4,1341.3 L436.1,1342.2 L437.7,1343.1 L439.4,1344.0 L441.1,1344.9 L442.7,1345.7 L444.4,1346.6 L446.0,1347.5 L447.7,1348.3 L449.3,1349.1 L451.0,1350.0 L452.6,1350.8 L454.3,1351.6 L455.9,1352.4 L457.6,1353.1 L459.2,1353.9 L460.8,1354.6 L462.5,1355.3 L464.1,1356.0 L465.8,1356.7 L467.4,1357.4 L469.0,1358.0 L470.7,1358.7 L472.3,1359.3 L474.0,1360.0 L475.6,1360.6 L477.3,1361.2 L478.9,1361.8 L480.5,1362.4 L482.2,1363.0 L483.8,1363.6 L485.5,1364.1 L487.1,1364.7 L488.8,1365.3 L490.5,1365.8 L492.1,1366.4 L493.8,1366.9 L495.4,1367.4 L497.1,1368.0 L498.7,1368.5 L500.3,1369.0 L502.0,1369.6 L503.6,1370.1 L505.3,1370.6 L506.9,1371.1 L508.5,1371.6 L510.2,1372.1 L511.8,1372.6 L513.5,1373.1 L515.1,1373.6 L516.8,1374.0 L518.4,1374.5 L520.1,1374.9 L521.7,1375.4 L523.4,1375.8 L525.1,1376.2 L526.7,1376.6 L528.4,1377.0 L530.1,1377.4 L531.7,1377.8 L533.4,1378.2 L535.0,1378.5 L536.6,1378.9 L538.2,1379.2 L539.7,1379.5 L541.2,1379.8 L542.6,1380.1 L544.0,1380.4 L545.3,1380.6 L546.7,1380.9 L548.1,1381.1 L549.6,1381.4 L551.1,1381.6 L552.7,1381.9 L554.5,1382.1 L556.4,1382.4 L558.4,1382.7 L560.6,1382.9 L562.8,1383.2 L565.1,1383.5 L567.5,1383.8 L570.0,1384.0 L572.5,1384.3 L575.1,1384.6 L577.7,1384.8 L580.3,1385.0 L582.9,1385.3 L585.6,1385.5 L588.2,1385.7 L590.9,1385.9 L593.6,1386.1 L596.3,1386.3 L599.0,1386.5 L601.8,1386.6 L604.6,1386.8 L607.5,1387.0 L610.5,1387.1 L613.5,1387.2 L616.7,1387.4 L620.0,1387.5 L623.4,1387.6 L627.0,1387.7 L630.6,1387.8 L634.4,1387.9 L638.3,1388.0 L642.2,1388.0 L646.1,1388.1 L650.1,1388.1 L654.1,1388.2 L658.0,1388.3 L661.9,1388.3 L665.8,1388.4 L669.5,1388.5 L673.1,1388.5 L676.6,1388.6 L680.0,1388.6 L683.4,1388.7 L686.9,1388.8 L690.5,1388.8 L694.2,1388.9 L698.2,1388.9 L702.4,1389.0 L706.9,1389.1 L711.7,1389.2 L716.9,1389.3 L722.5,1389.4 L728.3,1389.6 L734.4,1389.7 L740.6,1389.9 L747.1,1390.1 L753.6,1390.2 L760.3,1390.4 L766.9,1390.5 L773.6,1390.7 L780.2,1390.8 L786.7,1390.9 L793.2,1391.0 L799.8,1391.1 L806.4,1391.2 L813.1,1391.3 L819.8,1391.3 L826.5,1391.4 L833.2,1391.5 L840.0,1391.5 L846.7,1391.6 L853.4,1391.6 L860.1,1391.7 L866.7,1391.7 L873.3,1391.7 L879.9,1391.8 L886.4,1391.8 L893.0,1391.8 L899.5,1391.8 L906.0,1391.8 L912.5,1391.8 L919.0,1391.8 L925.5,1391.8 L932.0,1391.8 L938.5,1391.7 L945.0,1391.7 L951.7,1391.7 L958.8,1391.6 L966.2,1391.5 L973.7,1391.5 L981.2,1391.4 L988.5,1391.3 L995.6,1391.2 L1002.2,1391.1 L1008.4,1391.1 L1013.8,1391.0 L1018.5,1390.9 L1022.2,1390.9" fill="none" stroke="#b4b5de" stroke-width="7.7" stroke-linejoin="round"/>
<path d="M774.2,1242.0 H806.6 V1311.1 H823.0 L790.4,1343.6 L757.8,1311.1 H774.2 Z" fill="#b4b5de"/>
<g transform="translate(720,1095) scale(0.29163)" stroke-linejoin="round" stroke-linecap="round"><defs><clipPath id="anchBody"><path d="M182,150 Q300,158 450,152 Q620,144 800,156 Q900,172 975,194 Q1012,210 1021,226 Q1012,240 985,252 Q900,292 800,315 Q650,322 500,300 Q400,276 300,250 Q240,240 184,236 Q176,195 182,150Z"/></clipPath></defs><path d="M184,152 Q140,138 100,112 Q60,88 40,92 Q32,98 40,116 Q70,180 116,200 Q76,236 50,296 Q48,310 66,308 Q120,292 160,256 Q176,244 186,234Z" fill="#6d7073" stroke="#1a1a1a" stroke-width="2.8"/><path d="M184,158 Q120,118 48,100M184,163 Q124,128 57,114M184,168 Q129,138 66,127M184,173 Q133,148 75,141M184,179 Q137,158 83,155M184,184 Q141,168 92,169M184,189 Q146,178 101,182M184,194 Q150,198 110,204M184,199 Q146,207 103,218M184,204 Q141,216 95,231M184,209 Q137,225 88,245M184,215 Q133,233 80,259M184,220 Q129,242 73,273M184,225 Q124,251 65,286M184,230 Q120,260 58,300" stroke="#1f1f1f" stroke-width="2.1" fill="none"/><path d="M446,152 L536,46 Q545,42 548,52 L586,147Z" fill="#b7c1cc" stroke="#1a1a1a" stroke-width="2.6"/><path d="M470,150 L540,60 M495,150 L545,72 M520,150 L552,88 M545,150 L560,105 M565,149 L570,125" stroke="#3a3a3a" stroke-width="1.5" fill="none"/><path d="M290,248 L318,340 Q324,350 332,342 L388,272Z" fill="#98a3a7" stroke="#1a1a1a" stroke-width="2.6"/><path d="M305,255 L322,335 M322,258 L330,325 M340,262 L342,312 M358,266 L356,298" stroke="#3a3a3a" stroke-width="1.5" fill="none"/><path d="M446,298 L452,355 Q458,362 466,354 L522,304Z" fill="#98a3a7" stroke="#1a1a1a" stroke-width="2.6"/><path d="M458,305 L458,350 M474,306 L468,342 M490,306 L482,330" stroke="#3a3a3a" stroke-width="1.5" fill="none"/><path d="M182,150 Q300,158 450,152 Q620,144 800,156 Q900,172 975,194 Q1012,210 1021,226 Q1012,240 985,252 Q900,292 800,315 Q650,322 500,300 Q400,276 300,250 Q240,240 184,236 Q176,195 182,150Z" fill="#9aa5a9"/><g clip-path="url(#anchBody)"><path d="M180,260 Q500,330 800,330 L1030,240 L1030,330 L180,330Z" fill="#a9b2b5" opacity="0.6"/><path d="M170,140 L1030,140 L1030,214 Q900,186 780,190 Q600,178 450,186 Q300,190 170,184Z" fill="#5f8598"/><path d="M170,140 L1030,140 L1030,206 Q900,178 780,182 Q600,170 450,178 Q300,184 170,178Z" fill="#27566f"/><path d="M205,186q-14,13 0,28M238,186q-14,13 0,28M271,186q-14,13 0,28M304,186q-14,13 0,28M337,186q-14,13 0,28M370,186q-14,13 0,28M403,186q-14,13 0,28M436,186q-14,13 0,28M469,186q-14,13 0,28M502,186q-14,13 0,28M535,186q-14,13 0,28M568,186q-14,13 0,28M601,186q-14,13 0,28M634,186q-14,13 0,28M667,186q-14,13 0,28M700,186q-14,13 0,28M733,186q-14,13 0,28M766,186q-14,13 0,28M221,211q-14,13 0,28M254,211q-14,13 0,28M287,211q-14,13 0,28M320,211q-14,13 0,28M353,211q-14,13 0,28M386,211q-14,13 0,28M419,211q-14,13 0,28M452,211q-14,13 0,28M485,211q-14,13 0,28M518,211q-14,13 0,28M551,211q-14,13 0,28M584,211q-14,13 0,28M617,211q-14,13 0,28M650,211q-14,13 0,28M683,211q-14,13 0,28M716,211q-14,13 0,28M749,211q-14,13 0,28M205,236q-14,13 0,28M238,236q-14,13 0,28M271,236q-14,13 0,28M304,236q-14,13 0,28M337,236q-14,13 0,28M370,236q-14,13 0,28M403,236q-14,13 0,28M436,236q-14,13 0,28M469,236q-14,13 0,28M502,236q-14,13 0,28M535,236q-14,13 0,28M568,236q-14,13 0,28M601,236q-14,13 0,28M634,236q-14,13 0,28M667,236q-14,13 0,28M700,236q-14,13 0,28M733,236q-14,13 0,28M766,236q-14,13 0,28M221,261q-14,13 0,28M254,261q-14,13 0,28M287,261q-14,13 0,28M320,261q-14,13 0,28M353,261q-14,13 0,28M386,261q-14,13 0,28M419,261q-14,13 0,28M452,261q-14,13 0,28M485,261q-14,13 0,28M518,261q-14,13 0,28M551,261q-14,13 0,28M584,261q-14,13 0,28M617,261q-14,13 0,28M650,261q-14,13 0,28M683,261q-14,13 0,28M716,261q-14,13 0,28M749,261q-14,13 0,28M205,286q-14,13 0,28M238,286q-14,13 0,28M271,286q-14,13 0,28M304,286q-14,13 0,28M337,286q-14,13 0,28M370,286q-14,13 0,28M403,286q-14,13 0,28M436,286q-14,13 0,28M469,286q-14,13 0,28M502,286q-14,13 0,28M535,286q-14,13 0,28M568,286q-14,13 0,28M601,286q-14,13 0,28M634,286q-14,13 0,28M667,286q-14,13 0,28M700,286q-14,13 0,28M733,286q-14,13 0,28M766,286q-14,13 0,28" stroke="#17242b" stroke-width="2.4" fill="none"/></g><path d="M182,150 Q300,158 450,152 Q620,144 800,156 Q900,172 975,194 Q1012,210 1021,226 Q1012,240 985,252 Q900,292 800,315 Q650,322 500,300 Q400,276 300,250 Q240,240 184,236 Q176,195 182,150Z" fill="none" stroke="#1a1a1a" stroke-width="2.8"/><path d="M835,178 Q770,235 800,312" fill="none" stroke="#1a1a1a" stroke-width="2.4"/><path d="M875,205 Q830,235 820,270 M895,240 Q850,255 840,285" fill="none" stroke="#1a1a1a" stroke-width="1.8"/><path d="M1012,236 Q960,262 900,272 Q850,290 822,282" fill="none" stroke="#1a1a1a" stroke-width="2.6"/><path d="M618,292 Q690,268 760,270 Q752,300 742,306 Q680,308 618,292Z" fill="#a5aeb2" stroke="#1a1a1a" stroke-width="2.4"/><path d="M640,292 L750,278 M650,296 L748,288 M665,300 L745,298" stroke="#3a3a3a" stroke-width="1.4" fill="none"/><circle cx="925" cy="218" r="28" fill="#fff" stroke="#111" stroke-width="4"/><circle cx="927" cy="219" r="14" fill="#0a0a0a"/></g>
<rect x="208.5" y="1090.0" width="851.5" height="344.4" fill="none" stroke="#333333" stroke-width="2.6"/>
<line x1="245.8" y1="1434.4" x2="245.8" y2="1446.4" stroke="#333333" stroke-width="4.6"/>
<text x="245.8" y="1482.5" text-anchor="middle" font-size="36.5" fill="#4d4d4d">0</text>
<line x1="401.1" y1="1434.4" x2="401.1" y2="1446.4" stroke="#333333" stroke-width="4.6"/>
<text x="401.1" y="1482.5" text-anchor="middle" font-size="36.5" fill="#4d4d4d">24</text>
<line x1="556.4" y1="1434.4" x2="556.4" y2="1446.4" stroke="#333333" stroke-width="4.6"/>
<text x="556.4" y="1482.5" text-anchor="middle" font-size="36.5" fill="#4d4d4d">48</text>
<line x1="711.7" y1="1434.4" x2="711.7" y2="1446.4" stroke="#333333" stroke-width="4.6"/>
<text x="711.7" y="1482.5" text-anchor="middle" font-size="36.5" fill="#4d4d4d">72</text>
<line x1="866.9" y1="1434.4" x2="866.9" y2="1446.4" stroke="#333333" stroke-width="4.6"/>
<text x="866.9" y="1482.5" text-anchor="middle" font-size="36.5" fill="#4d4d4d">96</text>
<line x1="1022.2" y1="1434.4" x2="1022.2" y2="1446.4" stroke="#333333" stroke-width="4.6"/>
<text x="1022.2" y="1482.5" text-anchor="middle" font-size="36.5" fill="#4d4d4d">120</text>
<line x1="196.5" y1="1169.2" x2="208.5" y2="1169.2" stroke="#333333" stroke-width="4.6"/>
<text x="188.5" y="1183.2" text-anchor="end" font-size="36.5" fill="#4d4d4d">10.0</text>
<line x1="196.5" y1="1249.7" x2="208.5" y2="1249.7" stroke="#333333" stroke-width="4.6"/>
<text x="188.5" y="1263.7" text-anchor="end" font-size="36.5" fill="#4d4d4d">7.5</text>
<line x1="196.5" y1="1330.1" x2="208.5" y2="1330.1" stroke="#333333" stroke-width="4.6"/>
<text x="188.5" y="1344.1" text-anchor="end" font-size="36.5" fill="#4d4d4d">5.0</text>
<line x1="196.5" y1="1410.5" x2="208.5" y2="1410.5" stroke="#333333" stroke-width="4.6"/>
<text x="188.5" y="1424.5" text-anchor="end" font-size="36.5" fill="#4d4d4d">2.5</text>
<text x="209.5" y="1057.3" font-size="50.6" font-style="italic" fill="#000">E. mordax</text>
<text x="83.5" y="1048.3" font-size="27.3" font-weight="bold" fill="#000">C</text>
</g>
<g>
<line x1="297.1" y1="1599.0" x2="297.1" y2="1943.2" stroke="#ebecee" stroke-width="2.4"/>
<line x1="458.1" y1="1599.0" x2="458.1" y2="1943.2" stroke="#ebecee" stroke-width="2.4"/>
<line x1="618.9" y1="1599.0" x2="618.9" y2="1943.2" stroke="#ebecee" stroke-width="2.4"/>
<line x1="779.5" y1="1599.0" x2="779.5" y2="1943.2" stroke="#ebecee" stroke-width="2.4"/>
<line x1="940.3" y1="1599.0" x2="940.3" y2="1943.2" stroke="#ebecee" stroke-width="2.4"/>
<line x1="177.8" y1="1629.8" x2="1060.0" y2="1629.8" stroke="#ebecee" stroke-width="2.4"/>
<line x1="177.8" y1="1695.3" x2="1060.0" y2="1695.3" stroke="#ebecee" stroke-width="2.4"/>
<line x1="177.8" y1="1760.8" x2="1060.0" y2="1760.8" stroke="#ebecee" stroke-width="2.4"/>
<line x1="177.8" y1="1826.3" x2="1060.0" y2="1826.3" stroke="#ebecee" stroke-width="2.4"/>
<line x1="177.8" y1="1891.8" x2="1060.0" y2="1891.8" stroke="#ebecee" stroke-width="2.4"/>
<line x1="216.6" y1="1599.0" x2="216.6" y2="1943.2" stroke="#ebecee" stroke-width="4.7"/>
<line x1="377.7" y1="1599.0" x2="377.7" y2="1943.2" stroke="#ebecee" stroke-width="4.7"/>
<line x1="538.6" y1="1599.0" x2="538.6" y2="1943.2" stroke="#ebecee" stroke-width="4.7"/>
<line x1="699.2" y1="1599.0" x2="699.2" y2="1943.2" stroke="#ebecee" stroke-width="4.7"/>
<line x1="859.8" y1="1599.0" x2="859.8" y2="1943.2" stroke="#ebecee" stroke-width="4.7"/>
<line x1="1020.9" y1="1599.0" x2="1020.9" y2="1943.2" stroke="#ebecee" stroke-width="4.7"/>
<line x1="177.8" y1="1662.5" x2="1060.0" y2="1662.5" stroke="#ebecee" stroke-width="4.7"/>
<line x1="177.8" y1="1728.0" x2="1060.0" y2="1728.0" stroke="#ebecee" stroke-width="4.7"/>
<line x1="177.8" y1="1793.5" x2="1060.0" y2="1793.5" stroke="#ebecee" stroke-width="4.7"/>
<line x1="177.8" y1="1859.0" x2="1060.0" y2="1859.0" stroke="#ebecee" stroke-width="4.7"/>
<line x1="177.8" y1="1924.5" x2="1060.0" y2="1924.5" stroke="#ebecee" stroke-width="4.7"/>
<circle cx="216.6" cy="1613.2" r="8.5" fill="#000"/>
<circle cx="216.6" cy="1618.6" r="8.5" fill="#000"/>
<circle cx="216.6" cy="1628.1" r="8.5" fill="#000"/>
<circle cx="216.6" cy="1633.9" r="8.5" fill="#000"/>
<circle cx="216.6" cy="1674.5" r="8.5" fill="#000"/>
<circle cx="216.6" cy="1699.3" r="8.5" fill="#000"/>
<circle cx="216.6" cy="1707.6" r="8.5" fill="#000"/>
<circle cx="216.6" cy="1738.7" r="8.5" fill="#000"/>
<circle cx="216.6" cy="1754.0" r="8.5" fill="#000"/>
<circle cx="377.7" cy="1765.6" r="8.5" fill="#000"/>
<circle cx="377.7" cy="1771.0" r="8.5" fill="#000"/>
<circle cx="377.7" cy="1788.3" r="8.5" fill="#000"/>
<circle cx="377.7" cy="1793.7" r="8.5" fill="#000"/>
<circle cx="377.7" cy="1813.2" r="8.5" fill="#000"/>
<circle cx="377.7" cy="1819.4" r="8.5" fill="#000"/>
<circle cx="377.7" cy="1850.4" r="8.5" fill="#000"/>
<circle cx="377.7" cy="1853.3" r="8.5" fill="#000"/>
<circle cx="538.6" cy="1834.7" r="8.5" fill="#000"/>
<circle cx="538.6" cy="1840.9" r="8.5" fill="#000"/>
<circle cx="538.6" cy="1850.4" r="8.5" fill="#000"/>
<circle cx="538.6" cy="1858.7" r="8.5" fill="#000"/>
<circle cx="538.6" cy="1871.1" r="8.5" fill="#000"/>
<circle cx="538.6" cy="1875.3" r="8.5" fill="#000"/>
<circle cx="538.6" cy="1900.9" r="8.5" fill="#000"/>
<circle cx="538.6" cy="1905.1" r="8.5" fill="#000"/>
<circle cx="699.2" cy="1867.5" r="8.5" fill="#000"/>
<circle cx="699.2" cy="1874.6" r="8.5" fill="#000"/>
<circle cx="699.2" cy="1885.0" r="8.5" fill="#000"/>
<circle cx="699.2" cy="1895.4" r="8.5" fill="#000"/>
<circle cx="699.2" cy="1916.3" r="8.5" fill="#000"/>
<circle cx="699.2" cy="1921.7" r="8.5" fill="#000"/>
<circle cx="859.8" cy="1878.8" r="8.5" fill="#000"/>
<circle cx="859.8" cy="1891.3" r="8.5" fill="#000"/>
<circle cx="859.8" cy="1903.8" r="8.5" fill="#000"/>
<circle cx="859.8" cy="1919.2" r="8.5" fill="#000"/>
<circle cx="859.8" cy="1924.6" r="8.5" fill="#000"/>
<circle cx="1020.9" cy="1882.9" r="8.5" fill="#000"/>
<circle cx="1020.9" cy="1893.4" r="8.5" fill="#000"/>
<circle cx="1020.9" cy="1903.8" r="8.5" fill="#000"/>
<circle cx="1020.9" cy="1922.5" r="8.5" fill="#000"/>
<circle cx="1020.9" cy="1928.8" r="8.5" fill="#000"/>
<path d="M216.6,1660.0 L217.8,1661.2 L219.3,1662.6 L221.1,1664.4 L223.0,1666.3 L225.2,1668.4 L227.5,1670.6 L229.8,1673.0 L232.2,1675.3 L234.6,1677.6 L237.0,1679.9 L239.3,1682.0 L241.4,1684.0 L243.5,1685.9 L245.5,1687.8 L247.6,1689.6 L249.7,1691.4 L251.7,1693.3 L253.8,1695.1 L255.9,1696.8 L257.9,1698.6 L260.0,1700.4 L262.1,1702.1 L264.1,1703.9 L266.2,1705.6 L268.3,1707.3 L270.3,1709.0 L272.4,1710.7 L274.5,1712.4 L276.6,1714.0 L278.7,1715.7 L280.7,1717.3 L282.8,1719.0 L284.9,1720.6 L287.0,1722.2 L289.0,1723.8 L291.1,1725.4 L293.2,1727.0 L295.2,1728.6 L297.3,1730.2 L299.4,1731.8 L301.4,1733.3 L303.5,1734.9 L305.6,1736.5 L307.6,1738.0 L309.7,1739.5 L311.8,1741.0 L313.8,1742.5 L315.9,1744.0 L318.0,1745.5 L320.0,1746.9 L322.1,1748.3 L324.2,1749.7 L326.2,1751.1 L328.3,1752.5 L330.4,1753.9 L332.4,1755.2 L334.5,1756.6 L336.6,1757.9 L338.6,1759.3 L340.7,1760.6 L342.8,1761.9 L345.0,1763.3 L347.2,1764.7 L349.5,1766.1 L351.7,1767.5 L353.9,1768.8 L356.1,1770.1 L358.2,1771.4 L360.3,1772.7 L362.2,1773.8 L364.0,1774.9 L365.6,1775.9 L367.0,1776.8 L368.2,1777.5 L369.3,1778.2 L370.2,1778.7 L371.0,1779.2 L371.8,1779.7 L372.6,1780.2 L373.4,1780.7 L374.3,1781.3 L375.4,1781.9 L376.6,1782.6 L378.0,1783.4 L379.6,1784.3 L381.4,1785.4 L383.3,1786.5 L385.3,1787.6 L387.4,1788.8 L389.6,1790.1 L391.8,1791.3 L394.1,1792.6 L396.3,1793.9 L398.5,1795.1 L400.7,1796.3 L402.8,1797.4 L404.9,1798.5 L406.9,1799.6 L409.0,1800.7 L411.1,1801.7 L413.2,1802.8 L415.3,1803.8 L417.3,1804.8 L419.4,1805.9 L421.5,1806.9 L423.6,1807.9 L425.6,1808.9 L427.7,1809.9 L429.8,1810.9 L431.8,1811.9 L433.9,1812.9 L436.0,1813.8 L438.0,1814.8 L440.1,1815.8 L442.2,1816.7 L444.2,1817.7 L446.3,1818.6 L448.4,1819.6 L450.4,1820.5 L452.5,1821.4 L454.6,1822.3 L456.6,1823.2 L458.7,1824.1 L460.8,1825.0 L462.8,1825.9 L464.9,1826.8 L467.0,1827.6 L469.0,1828.5 L471.1,1829.3 L473.2,1830.2 L475.2,1831.0 L477.3,1831.8 L479.4,1832.6 L481.4,1833.4 L483.5,1834.2 L485.6,1835.0 L487.7,1835.7 L489.8,1836.5 L491.8,1837.2 L493.9,1838.0 L496.0,1838.7 L498.1,1839.4 L500.1,1840.2 L502.2,1840.9 L504.3,1841.6 L506.5,1842.4 L508.7,1843.1 L511.0,1843.9 L513.2,1844.7 L515.4,1845.4 L517.6,1846.1 L519.7,1846.8 L521.7,1847.5 L523.6,1848.1 L525.4,1848.7 L527.0,1849.2 L528.4,1849.6 L529.5,1850.0 L530.5,1850.3 L531.3,1850.5 L532.1,1850.7 L532.7,1850.9 L533.4,1851.1 L534.2,1851.3 L535.0,1851.5 L536.0,1851.8 L537.2,1852.1 L538.6,1852.5 L540.3,1853.0 L542.1,1853.5 L544.1,1854.1 L546.2,1854.7 L548.4,1855.4 L550.6,1856.0 L552.9,1856.7 L555.3,1857.4 L557.6,1858.1 L559.9,1858.7 L562.1,1859.3 L564.3,1859.9 L566.4,1860.4 L568.4,1861.0 L570.4,1861.5 L572.4,1862.0 L574.4,1862.5 L576.4,1863.0 L578.4,1863.5 L580.4,1864.0 L582.5,1864.4 L584.6,1864.9 L586.8,1865.3 L589.1,1865.7 L591.4,1866.1 L593.8,1866.4 L596.2,1866.8 L598.6,1867.1 L601.1,1867.4 L603.6,1867.7 L606.2,1867.9 L608.8,1868.2 L611.5,1868.4 L614.3,1868.7 L617.1,1869.0 L620.0,1869.2 L623.0,1869.4 L626.1,1869.7 L629.3,1869.9 L632.6,1870.0 L635.9,1870.2 L639.3,1870.4 L642.7,1870.6 L646.1,1870.8 L649.5,1871.0 L652.9,1871.2 L656.3,1871.4 L659.6,1871.7 L662.9,1872.0 L666.2,1872.3 L669.5,1872.6 L672.7,1872.9 L676.0,1873.2 L679.3,1873.6 L682.6,1873.9 L685.8,1874.3 L689.2,1874.7 L692.5,1875.0 L695.8,1875.4 L699.2,1875.8 L702.6,1876.2 L706.1,1876.6 L709.5,1877.0 L713.0,1877.5 L716.5,1877.9 L720.1,1878.3 L723.6,1878.8 L727.1,1879.2 L730.6,1879.6 L734.1,1880.0 L737.5,1880.4 L740.9,1880.8 L744.3,1881.1 L747.6,1881.5 L750.9,1881.8 L754.2,1882.1 L757.5,1882.4 L760.8,1882.7 L764.0,1883.0 L767.3,1883.2 L770.6,1883.5 L773.8,1883.7 L777.1,1884.0 L780.4,1884.2 L783.7,1884.4 L787.0,1884.6 L790.3,1884.8 L793.6,1885.0 L796.9,1885.2 L800.2,1885.4 L803.5,1885.6 L806.8,1885.7 L810.1,1885.9 L813.4,1886.0 L816.7,1886.2 L820.0,1886.3 L823.3,1886.4 L826.6,1886.6 L829.9,1886.7 L833.2,1886.8 L836.5,1886.9 L839.8,1887.0 L843.1,1887.1 L846.4,1887.2 L849.7,1887.2 L853.0,1887.3 L856.3,1887.4 L859.6,1887.5 L862.9,1887.6 L866.2,1887.7 L869.5,1887.7 L872.7,1887.8 L876.0,1887.9 L879.3,1888.0 L882.6,1888.0 L885.8,1888.1 L889.2,1888.2 L892.5,1888.2 L895.8,1888.3 L899.2,1888.3 L902.6,1888.3 L906.0,1888.4 L909.5,1888.4 L912.9,1888.4 L916.4,1888.5 L919.9,1888.5 L923.4,1888.5 L926.9,1888.5 L930.4,1888.5 L933.9,1888.4 L937.4,1888.4 L940.9,1888.3 L944.4,1888.2 L947.9,1888.1 L951.4,1888.0 L954.9,1887.8 L958.4,1887.7 L962.0,1887.5 L965.5,1887.3 L969.0,1887.1 L972.4,1886.9 L975.8,1886.7 L979.2,1886.5 L982.6,1886.3 L986.0,1886.1 L989.6,1885.8 L993.3,1885.5 L997.0,1885.1 L1000.7,1884.8 L1004.4,1884.5 L1007.8,1884.1 L1011.1,1883.8 L1014.1,1883.5 L1016.8,1883.3 L1019.1,1883.1 L1020.9,1882.9 L1020.9,1915.4 L1019.1,1915.3 L1016.8,1915.1 L1014.1,1914.9 L1011.1,1914.7 L1007.8,1914.5 L1004.4,1914.3 L1000.7,1914.0 L997.0,1913.8 L993.3,1913.5 L989.6,1913.3 L986.0,1913.1 L982.6,1912.9 L979.2,1912.7 L975.8,1912.6 L972.4,1912.4 L969.0,1912.3 L965.5,1912.1 L962.0,1912.0 L958.4,1911.8 L954.9,1911.7 L951.4,1911.6 L947.9,1911.5 L944.4,1911.4 L940.9,1911.3 L937.4,1911.2 L933.9,1911.2 L930.4,1911.1 L926.9,1911.1 L923.4,1911.0 L919.9,1911.0 L916.4,1911.0 L912.9,1911.0 L909.5,1910.9 L906.0,1910.9 L902.6,1910.9 L899.2,1910.9 L895.8,1910.9 L892.5,1910.9 L889.2,1910.9 L885.8,1910.9 L882.6,1910.9 L879.3,1910.9 L876.0,1910.9 L872.7,1911.0 L869.5,1911.0 L866.2,1910.9 L862.9,1910.9 L859.6,1910.9 L856.3,1910.9 L853.0,1910.8 L849.7,1910.7 L846.4,1910.7 L843.1,1910.6 L839.8,1910.5 L836.5,1910.4 L833.2,1910.4 L829.9,1910.3 L826.6,1910.2 L823.3,1910.1 L820.0,1910.0 L816.7,1909.9 L813.4,1909.8 L810.1,1909.7 L806.8,1909.7 L803.5,1909.6 L800.2,1909.5 L796.9,1909.4 L793.6,1909.3 L790.3,1909.2 L787.0,1909.1 L783.7,1908.9 L780.4,1908.8 L777.1,1908.7 L773.8,1908.5 L770.6,1908.4 L767.3,1908.2 L764.0,1908.0 L760.8,1907.9 L757.5,1907.7 L754.2,1907.5 L750.9,1907.3 L747.6,1907.1 L744.3,1906.9 L740.9,1906.7 L737.5,1906.5 L734.1,1906.3 L730.6,1906.1 L727.1,1905.9 L723.6,1905.7 L720.1,1905.4 L716.5,1905.2 L713.0,1905.0 L709.5,1904.7 L706.1,1904.4 L702.6,1904.1 L699.2,1903.8 L695.8,1903.5 L692.5,1903.1 L689.2,1902.7 L685.8,1902.3 L682.6,1901.9 L679.3,1901.5 L676.0,1901.1 L672.7,1900.6 L669.5,1900.2 L666.2,1899.7 L662.9,1899.3 L659.6,1898.8 L656.3,1898.3 L652.9,1897.8 L649.5,1897.2 L646.1,1896.7 L642.7,1896.1 L639.3,1895.5 L635.9,1894.9 L632.6,1894.4 L629.3,1893.9 L626.1,1893.4 L623.0,1892.9 L620.0,1892.5 L617.1,1892.2 L614.3,1891.9 L611.5,1891.6 L608.8,1891.4 L606.2,1891.2 L603.6,1891.0 L601.1,1890.9 L598.6,1890.7 L596.2,1890.5 L593.8,1890.3 L591.4,1890.0 L589.1,1889.7 L586.8,1889.4 L584.6,1889.0 L582.5,1888.6 L580.4,1888.2 L578.4,1887.8 L576.4,1887.3 L574.4,1886.9 L572.4,1886.4 L570.4,1885.9 L568.4,1885.4 L566.4,1884.9 L564.3,1884.4 L562.1,1883.9 L559.9,1883.3 L557.6,1882.7 L555.3,1882.0 L552.9,1881.4 L550.6,1880.7 L548.4,1880.1 L546.2,1879.4 L544.1,1878.8 L542.1,1878.3 L540.3,1877.8 L538.6,1877.3 L537.2,1876.9 L536.0,1876.6 L535.0,1876.4 L534.2,1876.2 L533.4,1876.0 L532.7,1875.9 L532.1,1875.7 L531.3,1875.5 L530.5,1875.3 L529.5,1875.1 L528.4,1874.8 L527.0,1874.4 L525.4,1873.9 L523.6,1873.5 L521.7,1872.9 L519.7,1872.3 L517.6,1871.7 L515.4,1871.1 L513.2,1870.5 L511.0,1869.8 L508.7,1869.1 L506.5,1868.4 L504.3,1867.7 L502.2,1867.0 L500.1,1866.3 L498.1,1865.5 L496.0,1864.8 L493.9,1864.0 L491.8,1863.2 L489.8,1862.4 L487.7,1861.6 L485.6,1860.8 L483.5,1860.0 L481.4,1859.2 L479.4,1858.3 L477.3,1857.5 L475.2,1856.7 L473.2,1855.8 L471.1,1855.0 L469.0,1854.2 L467.0,1853.3 L464.9,1852.5 L462.8,1851.6 L460.8,1850.7 L458.7,1849.8 L456.6,1848.9 L454.6,1848.0 L452.5,1847.1 L450.4,1846.2 L448.4,1845.2 L446.3,1844.3 L444.2,1843.3 L442.2,1842.3 L440.1,1841.3 L438.0,1840.3 L436.0,1839.3 L433.9,1838.3 L431.8,1837.2 L429.8,1836.2 L427.7,1835.1 L425.6,1834.0 L423.6,1832.9 L421.5,1831.8 L419.4,1830.7 L417.3,1829.5 L415.3,1828.4 L413.2,1827.2 L411.1,1826.1 L409.0,1824.9 L406.9,1823.7 L404.9,1822.6 L402.8,1821.4 L400.7,1820.2 L398.5,1819.0 L396.3,1817.7 L394.1,1816.4 L391.8,1815.1 L389.6,1813.8 L387.4,1812.5 L385.3,1811.3 L383.3,1810.1 L381.4,1809.0 L379.6,1808.0 L378.0,1807.0 L376.6,1806.2 L375.4,1805.5 L374.3,1804.8 L373.4,1804.3 L372.6,1803.8 L371.8,1803.4 L371.0,1802.9 L370.2,1802.4 L369.3,1801.8 L368.2,1801.2 L367.0,1800.4 L365.6,1799.5 L364.0,1798.5 L362.2,1797.3 L360.3,1796.1 L358.2,1794.8 L356.1,1793.4 L353.9,1792.0 L351.7,1790.6 L349.5,1789.2 L347.2,1787.7 L345.0,1786.2 L342.8,1784.8 L340.7,1783.4 L338.6,1782.0 L336.6,1780.6 L334.5,1779.2 L332.4,1777.8 L330.4,1776.4 L328.3,1775.0 L326.2,1773.6 L324.2,1772.2 L322.1,1770.8 L320.0,1769.3 L318.0,1767.9 L315.9,1766.4 L313.8,1764.9 L311.8,1763.4 L309.7,1762.0 L307.6,1760.5 L305.6,1758.9 L303.5,1757.4 L301.4,1755.9 L299.4,1754.4 L297.3,1752.8 L295.2,1751.3 L293.2,1749.8 L291.1,1748.2 L289.0,1746.6 L287.0,1745.1 L284.9,1743.5 L282.8,1741.9 L280.7,1740.3 L278.7,1738.7 L276.6,1737.0 L274.5,1735.4 L272.4,1733.8 L270.3,1732.2 L268.3,1730.7 L266.2,1729.1 L264.1,1727.6 L262.1,1726.0 L260.0,1724.5 L257.9,1723.0 L255.9,1721.4 L253.8,1719.9 L251.7,1718.4 L249.7,1716.9 L247.6,1715.4 L245.5,1713.9 L243.5,1712.4 L241.4,1710.9 L239.3,1709.3 L237.0,1707.7 L234.6,1706.0 L232.2,1704.3 L229.8,1702.6 L227.5,1700.9 L225.2,1699.2 L223.0,1697.7 L221.1,1696.3 L219.3,1695.0 L217.8,1694.0 L216.6,1693.1Z" fill="#999999" fill-opacity="0.45"/>
<path d="M216.6,1676.6 L217.8,1677.6 L219.3,1678.9 L221.1,1680.3 L223.0,1682.0 L225.2,1683.8 L227.5,1685.7 L229.8,1687.7 L232.2,1689.7 L234.6,1691.7 L237.0,1693.7 L239.3,1695.5 L241.4,1697.3 L243.5,1699.0 L245.5,1700.7 L247.6,1702.3 L249.7,1704.0 L251.7,1705.6 L253.8,1707.3 L255.9,1708.9 L257.9,1710.6 L260.0,1712.2 L262.1,1713.8 L264.1,1715.5 L266.2,1717.1 L268.3,1718.7 L270.3,1720.4 L272.4,1722.0 L274.5,1723.7 L276.6,1725.3 L278.7,1727.0 L280.7,1728.6 L282.8,1730.2 L284.9,1731.8 L287.0,1733.4 L289.0,1735.0 L291.1,1736.6 L293.2,1738.2 L295.2,1739.7 L297.3,1741.3 L299.4,1742.8 L301.4,1744.3 L303.5,1745.9 L305.6,1747.4 L307.6,1748.9 L309.7,1750.4 L311.8,1751.9 L313.8,1753.3 L315.9,1754.8 L318.0,1756.3 L320.0,1757.7 L322.1,1759.2 L324.2,1760.6 L326.2,1762.1 L328.3,1763.5 L330.4,1764.9 L332.4,1766.3 L334.5,1767.7 L336.6,1769.1 L338.6,1770.4 L340.7,1771.8 L342.8,1773.2 L345.0,1774.5 L347.2,1775.9 L349.5,1777.3 L351.7,1778.7 L353.9,1780.0 L356.1,1781.4 L358.2,1782.6 L360.3,1783.9 L362.2,1785.0 L364.0,1786.1 L365.6,1787.1 L367.0,1788.0 L368.2,1788.7 L369.3,1789.4 L370.2,1789.9 L371.0,1790.4 L371.8,1790.9 L372.6,1791.4 L373.4,1791.9 L374.3,1792.4 L375.4,1793.0 L376.6,1793.7 L378.0,1794.5 L379.6,1795.4 L381.4,1796.4 L383.3,1797.5 L385.3,1798.6 L387.4,1799.8 L389.6,1801.0 L391.8,1802.2 L394.1,1803.4 L396.3,1804.7 L398.5,1805.9 L400.7,1807.1 L402.8,1808.2 L404.9,1809.3 L406.9,1810.4 L409.0,1811.6 L411.1,1812.7 L413.2,1813.8 L415.3,1814.9 L417.3,1816.0 L419.4,1817.1 L421.5,1818.2 L423.6,1819.3 L425.6,1820.4 L427.7,1821.4 L429.8,1822.4 L431.8,1823.4 L433.9,1824.4 L436.0,1825.4 L438.0,1826.4 L440.1,1827.4 L442.2,1828.3 L444.2,1829.3 L446.3,1830.2 L448.4,1831.2 L450.4,1832.1 L452.5,1833.0 L454.6,1833.9 L456.6,1834.8 L458.7,1835.7 L460.8,1836.6 L462.8,1837.5 L464.9,1838.4 L467.0,1839.2 L469.0,1840.1 L471.1,1840.9 L473.2,1841.8 L475.2,1842.6 L477.3,1843.4 L479.4,1844.2 L481.4,1845.0 L483.5,1845.8 L485.6,1846.6 L487.7,1847.3 L489.8,1848.1 L491.8,1848.8 L493.9,1849.6 L496.0,1850.3 L498.1,1851.0 L500.1,1851.8 L502.2,1852.5 L504.3,1853.2 L506.5,1854.0 L508.7,1854.7 L511.0,1855.5 L513.2,1856.2 L515.4,1857.0 L517.6,1857.7 L519.7,1858.4 L521.7,1859.1 L523.6,1859.7 L525.4,1860.3 L527.0,1860.8 L528.4,1861.3 L529.5,1861.6 L530.5,1862.0 L531.3,1862.3 L532.1,1862.5 L532.7,1862.8 L533.4,1863.0 L534.2,1863.2 L535.0,1863.5 L536.0,1863.8 L537.2,1864.1 L538.6,1864.5 L540.3,1865.0 L542.1,1865.4 L544.1,1866.0 L546.2,1866.5 L548.4,1867.1 L550.6,1867.7 L552.9,1868.3 L555.3,1868.9 L557.6,1869.5 L559.9,1870.0 L562.1,1870.6 L564.3,1871.1 L566.4,1871.6 L568.4,1872.1 L570.4,1872.6 L572.4,1873.0 L574.4,1873.5 L576.4,1873.9 L578.4,1874.4 L580.4,1874.8 L582.5,1875.3 L584.6,1875.7 L586.8,1876.1 L589.1,1876.5 L591.4,1876.9 L593.8,1877.3 L596.2,1877.6 L598.6,1878.0 L601.1,1878.3 L603.6,1878.6 L606.2,1879.0 L608.8,1879.3 L611.5,1879.7 L614.3,1880.0 L617.1,1880.4 L620.0,1880.8 L623.0,1881.2 L626.1,1881.7 L629.3,1882.1 L632.6,1882.6 L635.9,1883.1 L639.3,1883.6 L642.7,1884.0 L646.1,1884.5 L649.5,1885.0 L652.9,1885.5 L656.3,1885.9 L659.6,1886.3 L662.9,1886.7 L666.2,1887.1 L669.5,1887.4 L672.7,1887.8 L676.0,1888.1 L679.3,1888.5 L682.6,1888.8 L685.8,1889.1 L689.2,1889.4 L692.5,1889.8 L695.8,1890.1 L699.2,1890.4 L702.6,1890.7 L706.1,1891.1 L709.5,1891.4 L713.0,1891.7 L716.5,1892.1 L720.1,1892.4 L723.6,1892.7 L727.1,1893.0 L730.6,1893.3 L734.1,1893.6 L737.5,1893.9 L740.9,1894.2 L744.3,1894.5 L747.6,1894.7 L750.9,1894.9 L754.2,1895.2 L757.5,1895.4 L760.8,1895.6 L764.0,1895.8 L767.3,1896.0 L770.6,1896.2 L773.8,1896.3 L777.1,1896.5 L780.4,1896.7 L783.7,1896.9 L787.0,1897.0 L790.3,1897.2 L793.6,1897.4 L796.9,1897.5 L800.2,1897.7 L803.5,1897.8 L806.8,1897.9 L810.1,1898.1 L813.4,1898.2 L816.7,1898.3 L820.0,1898.4 L823.3,1898.5 L826.6,1898.6 L829.9,1898.7 L833.2,1898.7 L836.5,1898.8 L839.8,1898.9 L843.1,1898.9 L846.4,1899.0 L849.7,1899.0 L853.0,1899.1 L856.3,1899.2 L859.6,1899.2 L862.9,1899.2 L866.2,1899.3 L869.5,1899.3 L872.7,1899.4 L876.0,1899.4 L879.3,1899.5 L882.6,1899.5 L885.8,1899.5 L889.2,1899.5 L892.5,1899.6 L895.8,1899.6 L899.2,1899.6 L902.6,1899.6 L906.0,1899.6 L909.5,1899.6 L912.9,1899.6 L916.4,1899.6 L919.9,1899.6 L923.4,1899.6 L926.9,1899.6 L930.4,1899.6 L933.9,1899.6 L937.4,1899.6 L940.9,1899.6 L944.4,1899.6 L947.9,1899.6 L951.4,1899.5 L954.9,1899.5 L958.4,1899.5 L962.0,1899.4 L965.5,1899.4 L969.0,1899.3 L972.4,1899.3 L975.8,1899.3 L979.2,1899.2 L982.6,1899.2 L986.0,1899.2 L989.6,1899.1 L993.3,1899.1 L997.0,1899.1 L1000.7,1899.0 L1004.4,1899.0 L1007.8,1898.9 L1011.1,1898.9 L1014.1,1898.9 L1016.8,1898.8 L1019.1,1898.8 L1020.9,1898.8" fill="none" stroke="#f6d145" stroke-width="7.7" stroke-linejoin="round"/>
<path d="M923.3,1757.5 H955.7 V1825.5 H972.1 L939.5,1858.0 L906.9,1825.5 H923.3 Z" fill="#f6d145"/>
<g transform="translate(625,1615) scale(0.35277)" stroke-linejoin="round" stroke-linecap="round"><defs><clipPath id="sardBody"><path d="M205,165 Q300,140 430,122 Q520,116 700,110 Q850,112 950,140 Q1015,165 1033,192 Q1036,205 1028,212 Q980,238 900,272 Q800,302 650,316 Q500,302 400,272 Q300,246 205,216 Q198,190 205,165Z"/></clipPath></defs><path d="M208,166 Q120,130 50,108 Q38,108 42,122 Q95,150 140,186 Q80,215 36,248 Q34,262 50,262 Q130,240 208,216Z" fill="#fff" stroke="#0a0a0a" stroke-width="3"/><path d="M208,166 Q120,130 50,108 Q38,108 42,122 Q95,150 140,186 L208,192Z" fill="#0a0a0a"/><path d="M62,118 L200,170 M66,124 L200,176 M80,136 L200,181 M100,152 L200,186 M122,170 L200,190" stroke="#fff" stroke-width="2.4" fill="none"/><path d="M200,196 L60,240 M200,202 L50,252 M200,208 L70,254 M200,190 L110,212 M200,212 L100,246" stroke="#0a0a0a" stroke-width="1.8" fill="none"/><path d="M498,120 L572,38 Q580,34 590,40 Q640,70 684,112Z" fill="#0a0a0a" stroke="#0a0a0a" stroke-width="2"/><path d="M520,108 L578,48 M536,110 L590,54 M552,110 L602,62 M568,110 L614,70 M586,110 L626,80 M604,110 L640,90 M624,110 L654,100" stroke="#fff" stroke-width="2.6" fill="none"/><path d="M236,238 Q300,262 372,288 Q395,282 410,264 L300,236Z" fill="#fff" stroke="#0a0a0a" stroke-width="2.6"/><path d="M340,262 L378,282 M355,262 L390,276 M320,256 L360,280" stroke="#0a0a0a" stroke-width="1.6" fill="none"/><path d="M578,308 L562,352 L570,380 L590,366 L600,372 L612,362 L632,314Z" fill="#fff" stroke="#0a0a0a" stroke-width="2.8"/><path d="M588,314 L575,365 M600,314 L592,362 M614,314 L606,358" stroke="#0a0a0a" stroke-width="1.8" fill="none"/><path d="M205,165 Q300,140 430,122 Q520,116 700,110 Q850,112 950,140 Q1015,165 1033,192 Q1036,205 1028,212 Q980,238 900,272 Q800,302 650,316 Q500,302 400,272 Q300,246 205,216 Q198,190 205,165Z" fill="#fff"/><g clip-path="url(#sardBody)"><path d="M205,150q-11,9 0,19M223,150q-11,9 0,19M241,150q-11,9 0,19M259,150q-11,9 0,19M277,150q-11,9 0,19M295,150q-11,9 0,19M313,150q-11,9 0,19M331,150q-11,9 0,19M349,150q-11,9 0,19M367,150q-11,9 0,19M385,150q-11,9 0,19M403,150q-11,9 0,19M421,150q-11,9 0,19M439,150q-11,9 0,19M457,150q-11,9 0,19M475,150q-11,9 0,19M493,150q-11,9 0,19M511,150q-11,9 0,19M529,150q-11,9 0,19M547,150q-11,9 0,19M565,150q-11,9 0,19M583,150q-11,9 0,19M601,150q-11,9 0,19M619,150q-11,9 0,19M637,150q-11,9 0,19M655,150q-11,9 0,19M673,150q-11,9 0,19M691,150q-11,9 0,19M709,150q-11,9 0,19M727,150q-11,9 0,19M745,150q-11,9 0,19M763,150q-11,9 0,19M781,150q-11,9 0,19M799,150q-11,9 0,19M817,150q-11,9 0,19M214,163q-11,9 0,19M232,163q-11,9 0,19M250,163q-11,9 0,19M268,163q-11,9 0,19M286,163q-11,9 0,19M304,163q-11,9 0,19M322,163q-11,9 0,19M340,163q-11,9 0,19M358,163q-11,9 0,19M376,163q-11,9 0,19M394,163q-11,9 0,19M412,163q-11,9 0,19M430,163q-11,9 0,19M448,163q-11,9 0,19M466,163q-11,9 0,19M484,163q-11,9 0,19M502,163q-11,9 0,19M520,163q-11,9 0,19M538,163q-11,9 0,19M556,163q-11,9 0,19M574,163q-11,9 0,19M592,163q-11,9 0,19M610,163q-11,9 0,19M628,163q-11,9 0,19M646,163q-11,9 0,19M664,163q-11,9 0,19M682,163q-11,9 0,19M700,163q-11,9 0,19M718,163q-11,9 0,19M736,163q-11,9 0,19M754,163q-11,9 0,19M772,163q-11,9 0,19M790,163q-11,9 0,19M808,163q-11,9 0,19M826,163q-11,9 0,19M205,176q-11,9 0,19M223,176q-11,9 0,19M241,176q-11,9 0,19M259,176q-11,9 0,19M277,176q-11,9 0,19M295,176q-11,9 0,19M313,176q-11,9 0,19M331,176q-11,9 0,19M349,176q-11,9 0,19M367,176q-11,9 0,19M385,176q-11,9 0,19M403,176q-11,9 0,19M421,176q-11,9 0,19M439,176q-11,9 0,19M457,176q-11,9 0,19M475,176q-11,9 0,19M493,176q-11,9 0,19M511,176q-11,9 0,19M529,176q-11,9 0,19M547,176q-11,9 0,19M565,176q-11,9 0,19M583,176q-11,9 0,19M601,176q-11,9 0,19M619,176q-11,9 0,19M637,176q-11,9 0,19M655,176q-11,9 0,19M673,176q-11,9 0,19M691,176q-11,9 0,19M709,176q-11,9 0,19M727,176q-11,9 0,19M745,176q-11,9 0,19M763,176q-11,9 0,19M781,176q-11,9 0,19M799,176q-11,9 0,19M817,176q-11,9 0,19M214,189q-11,9 0,19M232,189q-11,9 0,19M250,189q-11,9 0,19M268,189q-11,9 0,19M286,189q-11,9 0,19M304,189q-11,9 0,19M322,189q-11,9 0,19M340,189q-11,9 0,19M358,189q-11,9 0,19M376,189q-11,9 0,19M394,189q-11,9 0,19M412,189q-11,9 0,19M430,189q-11,9 0,19M448,189q-11,9 0,19M466,189q-11,9 0,19M484,189q-11,9 0,19M502,189q-11,9 0,19M520,189q-11,9 0,19M538,189q-11,9 0,19M556,189q-11,9 0,19M574,189q-11,9 0,19M592,189q-11,9 0,19M610,189q-11,9 0,19M628,189q-11,9 0,19M646,189q-11,9 0,19M664,189q-11,9 0,19M682,189q-11,9 0,19M700,189q-11,9 0,19M718,189q-11,9 0,19M736,189q-11,9 0,19M754,189q-11,9 0,19M772,189q-11,9 0,19M790,189q-11,9 0,19M808,189q-11,9 0,19M826,189q-11,9 0,19M205,202q-11,9 0,19M223,202q-11,9 0,19M241,202q-11,9 0,19M259,202q-11,9 0,19M277,202q-11,9 0,19M295,202q-11,9 0,19M313,202q-11,9 0,19M331,202q-11,9 0,19M349,202q-11,9 0,19M367,202q-11,9 0,19M385,202q-11,9 0,19M403,202q-11,9 0,19M421,202q-11,9 0,19M439,202q-11,9 0,19M457,202q-11,9 0,19M475,202q-11,9 0,19M493,202q-11,9 0,19M511,202q-11,9 0,19M529,202q-11,9 0,19M547,202q-11,9 0,19M565,202q-11,9 0,19M583,202q-11,9 0,19M601,202q-11,9 0,19M619,202q-11,9 0,19M637,202q-11,9 0,19M655,202q-11,9 0,19M673,202q-11,9 0,19M691,202q-11,9 0,19M709,202q-11,9 0,19M727,202q-11,9 0,19M745,202q-11,9 0,19M763,202q-11,9 0,19M781,202q-11,9 0,19M799,202q-11,9 0,19M817,202q-11,9 0,19M214,215q-11,9 0,19M232,215q-11,9 0,19M250,215q-11,9 0,19M268,215q-11,9 0,19M286,215q-11,9 0,19M304,215q-11,9 0,19M322,215q-11,9 0,19M340,215q-11,9 0,19M358,215q-11,9 0,19M376,215q-11,9 0,19M394,215q-11,9 0,19M412,215q-11,9 0,19M430,215q-11,9 0,19M448,215q-11,9 0,19M466,215q-11,9 0,19M484,215q-11,9 0,19M502,215q-11,9 0,19M520,215q-11,9 0,19M538,215q-11,9 0,19M556,215q-11,9 0,19M574,215q-11,9 0,19M592,215q-11,9 0,19M610,215q-11,9 0,19M628,215q-11,9 0,19M646,215q-11,9 0,19M664,215q-11,9 0,19M682,215q-11,9 0,19M700,215q-11,9 0,19M718,215q-11,9 0,19M736,215q-11,9 0,19M754,215q-11,9 0,19M772,215q-11,9 0,19M790,215q-11,9 0,19M808,215q-11,9 0,19M826,215q-11,9 0,19M205,228q-11,9 0,19M223,228q-11,9 0,19M241,228q-11,9 0,19M259,228q-11,9 0,19M277,228q-11,9 0,19M295,228q-11,9 0,19M313,228q-11,9 0,19M331,228q-11,9 0,19M349,228q-11,9 0,19M367,228q-11,9 0,19M385,228q-11,9 0,19M403,228q-11,9 0,19M421,228q-11,9 0,19M439,228q-11,9 0,19M457,228q-11,9 0,19M475,228q-11,9 0,19M493,228q-11,9 0,19M511,228q-11,9 0,19M529,228q-11,9 0,19M547,228q-11,9 0,19M565,228q-11,9 0,19M583,228q-11,9 0,19M601,228q-11,9 0,19M619,228q-11,9 0,19M637,228q-11,9 0,19M655,228q-11,9 0,19M673,228q-11,9 0,19M691,228q-11,9 0,19M709,228q-11,9 0,19M727,228q-11,9 0,19M745,228q-11,9 0,19M763,228q-11,9 0,19M781,228q-11,9 0,19M799,228q-11,9 0,19M817,228q-11,9 0,19M214,241q-11,9 0,19M232,241q-11,9 0,19M250,241q-11,9 0,19M268,241q-11,9 0,19M286,241q-11,9 0,19M304,241q-11,9 0,19M322,241q-11,9 0,19M340,241q-11,9 0,19M358,241q-11,9 0,19M376,241q-11,9 0,19M394,241q-11,9 0,19M412,241q-11,9 0,19M430,241q-11,9 0,19M448,241q-11,9 0,19M466,241q-11,9 0,19M484,241q-11,9 0,19M502,241q-11,9 0,19M520,241q-11,9 0,19M538,241q-11,9 0,19M556,241q-11,9 0,19M574,241q-11,9 0,19M592,241q-11,9 0,19M610,241q-11,9 0,19M628,241q-11,9 0,19M646,241q-11,9 0,19M664,241q-11,9 0,19M682,241q-11,9 0,19M700,241q-11,9 0,19M718,241q-11,9 0,19M736,241q-11,9 0,19M754,241q-11,9 0,19M772,241q-11,9 0,19M790,241q-11,9 0,19M808,241q-11,9 0,19M826,241q-11,9 0,19M205,254q-11,9 0,19M223,254q-11,9 0,19M241,254q-11,9 0,19M259,254q-11,9 0,19M277,254q-11,9 0,19M295,254q-11,9 0,19M313,254q-11,9 0,19M331,254q-11,9 0,19M349,254q-11,9 0,19M367,254q-11,9 0,19M385,254q-11,9 0,19M403,254q-11,9 0,19M421,254q-11,9 0,19M439,254q-11,9 0,19M457,254q-11,9 0,19M475,254q-11,9 0,19M493,254q-11,9 0,19M511,254q-11,9 0,19M529,254q-11,9 0,19M547,254q-11,9 0,19M565,254q-11,9 0,19M583,254q-11,9 0,19M601,254q-11,9 0,19M619,254q-11,9 0,19M637,254q-11,9 0,19M655,254q-11,9 0,19M673,254q-11,9 0,19M691,254q-11,9 0,19M709,254q-11,9 0,19M727,254q-11,9 0,19M745,254q-11,9 0,19M763,254q-11,9 0,19M781,254q-11,9 0,19M799,254q-11,9 0,19M817,254q-11,9 0,19M214,267q-11,9 0,19M232,267q-11,9 0,19M250,267q-11,9 0,19M268,267q-11,9 0,19M286,267q-11,9 0,19M304,267q-11,9 0,19M322,267q-11,9 0,19M340,267q-11,9 0,19M358,267q-11,9 0,19M376,267q-11,9 0,19M394,267q-11,9 0,19M412,267q-11,9 0,19M430,267q-11,9 0,19M448,267q-11,9 0,19M466,267q-11,9 0,19M484,267q-11,9 0,19M502,267q-11,9 0,19M520,267q-11,9 0,19M538,267q-11,9 0,19M556,267q-11,9 0,19M574,267q-11,9 0,19M592,267q-11,9 0,19M610,267q-11,9 0,19M628,267q-11,9 0,19M646,267q-11,9 0,19M664,267q-11,9 0,19M682,267q-11,9 0,19M700,267q-11,9 0,19M718,267q-11,9 0,19M736,267q-11,9 0,19M754,267q-11,9 0,19M772,267q-11,9 0,19M790,267q-11,9 0,19M808,267q-11,9 0,19M826,267q-11,9 0,19M205,280q-11,9 0,19M223,280q-11,9 0,19M241,280q-11,9 0,19M259,280q-11,9 0,19M277,280q-11,9 0,19M295,280q-11,9 0,19M313,280q-11,9 0,19M331,280q-11,9 0,19M349,280q-11,9 0,19M367,280q-11,9 0,19M385,280q-11,9 0,19M403,280q-11,9 0,19M421,280q-11,9 0,19M439,280q-11,9 0,19M457,280q-11,9 0,19M475,280q-11,9 0,19M493,280q-11,9 0,19M511,280q-11,9 0,19M529,280q-11,9 0,19M547,280q-11,9 0,19M565,280q-11,9 0,19M583,280q-11,9 0,19M601,280q-11,9 0,19M619,280q-11,9 0,19M637,280q-11,9 0,19M655,280q-11,9 0,19M673,280q-11,9 0,19M691,280q-11,9 0,19M709,280q-11,9 0,19M727,280q-11,9 0,19M745,280q-11,9 0,19M763,280q-11,9 0,19M781,280q-11,9 0,19M799,280q-11,9 0,19M817,280q-11,9 0,19M214,293q-11,9 0,19M232,293q-11,9 0,19M250,293q-11,9 0,19M268,293q-11,9 0,19M286,293q-11,9 0,19M304,293q-11,9 0,19M322,293q-11,9 0,19M340,293q-11,9 0,19M358,293q-11,9 0,19M376,293q-11,9 0,19M394,293q-11,9 0,19M412,293q-11,9 0,19M430,293q-11,9 0,19M448,293q-11,9 0,19M466,293q-11,9 0,19M484,293q-11,9 0,19M502,293q-11,9 0,19M520,293q-11,9 0,19M538,293q-11,9 0,19M556,293q-11,9 0,19M574,293q-11,9 0,19M592,293q-11,9 0,19M610,293q-11,9 0,19M628,293q-11,9 0,19M646,293q-11,9 0,19M664,293q-11,9 0,19M682,293q-11,9 0,19M700,293q-11,9 0,19M718,293q-11,9 0,19M736,293q-11,9 0,19M754,293q-11,9 0,19M772,293q-11,9 0,19M790,293q-11,9 0,19M808,293q-11,9 0,19M826,293q-11,9 0,19M205,306q-11,9 0,19M223,306q-11,9 0,19M241,306q-11,9 0,19M259,306q-11,9 0,19M277,306q-11,9 0,19M295,306q-11,9 0,19M313,306q-11,9 0,19M331,306q-11,9 0,19M349,306q-11,9 0,19M367,306q-11,9 0,19M385,306q-11,9 0,19M403,306q-11,9 0,19M421,306q-11,9 0,19M439,306q-11,9 0,19M457,306q-11,9 0,19M475,306q-11,9 0,19M493,306q-11,9 0,19M511,306q-11,9 0,19M529,306q-11,9 0,19M547,306q-11,9 0,19M565,306q-11,9 0,19M583,306q-11,9 0,19M601,306q-11,9 0,19M619,306q-11,9 0,19M637,306q-11,9 0,19M655,306q-11,9 0,19M673,306q-11,9 0,19M691,306q-11,9 0,19M709,306q-11,9 0,19M727,306q-11,9 0,19M745,306q-11,9 0,19M763,306q-11,9 0,19M781,306q-11,9 0,19M799,306q-11,9 0,19M817,306q-11,9 0,19M214,319q-11,9 0,19M232,319q-11,9 0,19M250,319q-11,9 0,19M268,319q-11,9 0,19M286,319q-11,9 0,19M304,319q-11,9 0,19M322,319q-11,9 0,19M340,319q-11,9 0,19M358,319q-11,9 0,19M376,319q-11,9 0,19M394,319q-11,9 0,19M412,319q-11,9 0,19M430,319q-11,9 0,19M448,319q-11,9 0,19M466,319q-11,9 0,19M484,319q-11,9 0,19M502,319q-11,9 0,19M520,319q-11,9 0,19M538,319q-11,9 0,19M556,319q-11,9 0,19M574,319q-11,9 0,19M592,319q-11,9 0,19M610,319q-11,9 0,19M628,319q-11,9 0,19M646,319q-11,9 0,19M664,319q-11,9 0,19M682,319q-11,9 0,19M700,319q-11,9 0,19M718,319q-11,9 0,19M736,319q-11,9 0,19M754,319q-11,9 0,19M772,319q-11,9 0,19M790,319q-11,9 0,19M808,319q-11,9 0,19M826,319q-11,9 0,19" stroke="#0a0a0a" stroke-width="3.3" fill="none"/><path d="M818,150 Q800,215 836,262 Q880,290 1040,215 L1040,150Z" fill="#eceded"/><path d="M818,160 Q802,215 838,260" fill="none" stroke="#0a0a0a" stroke-width="3"/><path d="M830,175 L880,235 M838,172 L890,228 M848,172 L896,220 M858,172 L900,212 M826,190 L862,242" stroke="#0a0a0a" stroke-width="1.6" fill="none"/><path d="M880,200 Q900,250 960,262" fill="none" stroke="#0a0a0a" stroke-width="2.4"/><path d="M190,100 L1045,100 L1045,200 L1030,196 Q1000,200 975,205 Q930,215 905,195 Q880,168 820,162 Q600,152 450,158 Q300,166 190,196Z" fill="#0a0a0a"/><circle cx="332" cy="176" r="11" fill="#0a0a0a"/><circle cx="385" cy="176" r="11" fill="#0a0a0a"/><circle cx="440" cy="176" r="11" fill="#0a0a0a"/><circle cx="497" cy="176" r="11" fill="#0a0a0a"/><circle cx="562" cy="176" r="11" fill="#0a0a0a"/><circle cx="625" cy="176" r="11" fill="#0a0a0a"/><circle cx="688" cy="176" r="11" fill="#0a0a0a"/><circle cx="742" cy="176" r="11" fill="#0a0a0a"/><circle cx="790" cy="176" r="11" fill="#0a0a0a"/></g><path d="M205,165 Q300,140 430,122 Q520,116 700,110 Q850,112 950,140 Q1015,165 1033,192 Q1036,205 1028,212 Q980,238 900,272 Q800,302 650,316 Q500,302 400,272 Q300,246 205,216 Q198,190 205,165Z" fill="none" stroke="#0a0a0a" stroke-width="3.4"/><path d="M1028,208 Q985,215 958,224 Q945,232 960,240" fill="none" stroke="#0a0a0a" stroke-width="2.6"/><path d="M905,205 L940,232 M915,202 L948,226" stroke="#0a0a0a" stroke-width="1.4" fill="none"/><circle cx="945" cy="187" r="17" fill="#fff" stroke="#0a0a0a" stroke-width="2"/><circle cx="945" cy="187" r="9.5" fill="#fff" stroke="#0a0a0a" stroke-width="4"/><path d="M690,236 Q760,232 815,256 Q790,268 760,266 Q720,252 690,236Z" fill="#fff" stroke="#0a0a0a" stroke-width="2.6"/><path d="M710,240 L800,256 M725,246 L790,262" stroke="#0a0a0a" stroke-width="1.5" fill="none"/></g>
<rect x="177.8" y="1599.0" width="882.2" height="344.2" fill="none" stroke="#333333" stroke-width="2.6"/>
<line x1="216.6" y1="1943.2" x2="216.6" y2="1955.2" stroke="#333333" stroke-width="4.6"/>
<text x="216.6" y="1991.3" text-anchor="middle" font-size="36.5" fill="#4d4d4d">0</text>
<line x1="377.7" y1="1943.2" x2="377.7" y2="1955.2" stroke="#333333" stroke-width="4.6"/>
<text x="377.7" y="1991.3" text-anchor="middle" font-size="36.5" fill="#4d4d4d">24</text>
<line x1="538.6" y1="1943.2" x2="538.6" y2="1955.2" stroke="#333333" stroke-width="4.6"/>
<text x="538.6" y="1991.3" text-anchor="middle" font-size="36.5" fill="#4d4d4d">48</text>
<line x1="699.2" y1="1943.2" x2="699.2" y2="1955.2" stroke="#333333" stroke-width="4.6"/>
<text x="699.2" y="1991.3" text-anchor="middle" font-size="36.5" fill="#4d4d4d">72</text>
<line x1="859.8" y1="1943.2" x2="859.8" y2="1955.2" stroke="#333333" stroke-width="4.6"/>
<text x="859.8" y="1991.3" text-anchor="middle" font-size="36.5" fill="#4d4d4d">96</text>
<line x1="1020.9" y1="1943.2" x2="1020.9" y2="1955.2" stroke="#333333" stroke-width="4.6"/>
<text x="1020.9" y="1991.3" text-anchor="middle" font-size="36.5" fill="#4d4d4d">120</text>
<line x1="165.8" y1="1662.5" x2="177.8" y2="1662.5" stroke="#333333" stroke-width="4.6"/>
<text x="157.8" y="1676.5" text-anchor="end" font-size="36.5" fill="#4d4d4d">50</text>
<line x1="165.8" y1="1728.0" x2="177.8" y2="1728.0" stroke="#333333" stroke-width="4.6"/>
<text x="157.8" y="1742.0" text-anchor="end" font-size="36.5" fill="#4d4d4d">40</text>
<line x1="165.8" y1="1793.5" x2="177.8" y2="1793.5" stroke="#333333" stroke-width="4.6"/>
<text x="157.8" y="1807.5" text-anchor="end" font-size="36.5" fill="#4d4d4d">30</text>
<line x1="165.8" y1="1859.0" x2="177.8" y2="1859.0" stroke="#333333" stroke-width="4.6"/>
<text x="157.8" y="1873.0" text-anchor="end" font-size="36.5" fill="#4d4d4d">20</text>
<line x1="165.8" y1="1924.5" x2="177.8" y2="1924.5" stroke="#333333" stroke-width="4.6"/>
<text x="157.8" y="1938.5" text-anchor="end" font-size="36.5" fill="#4d4d4d">10</text>
<text x="179.5" y="1565.5" font-size="50.6" font-style="italic" fill="#000">S. sagax</text>
<text x="83.5" y="1502.3" font-size="27.3" font-weight="bold" fill="#000">D</text>
</g>
<text transform="translate(47.5,1130) rotate(-90)" font-size="62" fill="#000">Weight (g)</text>
<text x="420" y="2085" font-size="55.2" fill="#000">Time (hours)</text>
</svg></body></html>
